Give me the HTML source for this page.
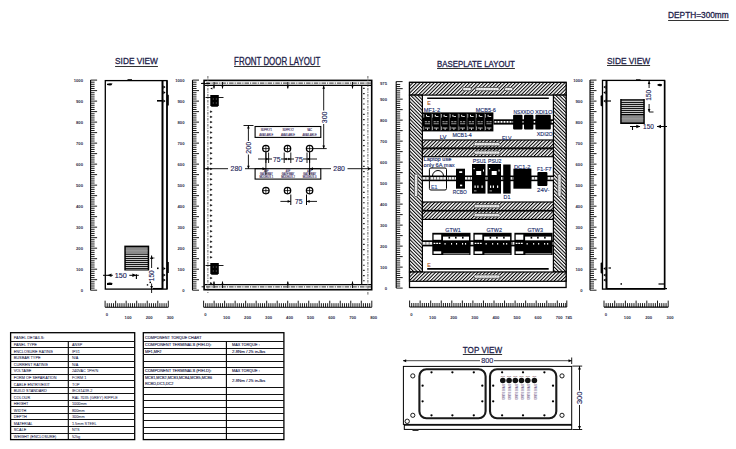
<!DOCTYPE html><html><head><meta charset="utf-8"><style>html,body{margin:0;padding:0;background:#fff;width:736px;height:449px;overflow:hidden}svg{display:block}</style></head><body>
<svg width="736" height="449" viewBox="0 0 736 449" font-family='"Liberation Sans", sans-serif'>
<defs>
<pattern id="hf" patternUnits="userSpaceOnUse" width="2.5" height="2.5" patternTransform="rotate(45)"><rect width="2.5" height="2.5" fill="#fff"/><rect x="0" y="0" width="1.05" height="2.5" fill="#000"/></pattern>
<pattern id="hb" patternUnits="userSpaceOnUse" width="2.5" height="2.5" patternTransform="rotate(-45)"><rect width="2.5" height="2.5" fill="#fff"/><rect x="0" y="0" width="1.05" height="2.5" fill="#000"/></pattern>
</defs>
<rect width="736" height="449" fill="#fff"/>
<text x="668.1" y="17.9" font-size="9.03" text-anchor="start" fill="#22224a" font-weight="normal" textLength="60.6" lengthAdjust="spacingAndGlyphs" stroke="#22224a" stroke-width="0.3">DEPTH=300mm</text>
<line x1="668.1" y1="20.5" x2="728.7" y2="20.5" stroke="#333" stroke-width="1.0"/>
<text x="115.1" y="64.3" font-size="9.44" text-anchor="start" fill="#22224a" font-weight="normal" textLength="42.8" lengthAdjust="spacingAndGlyphs" stroke="#22224a" stroke-width="0.3">SIDE VIEW</text>
<line x1="115.1" y1="66.5" x2="157.9" y2="66.5" stroke="#333" stroke-width="1.0"/>
<text x="234.1" y="64.5" font-size="10.14" text-anchor="start" fill="#22224a" font-weight="normal" textLength="86.3" lengthAdjust="spacingAndGlyphs" stroke="#22224a" stroke-width="0.3">FRONT DOOR LAYOUT</text>
<line x1="234.1" y1="66.5" x2="320.4" y2="66.5" stroke="#333" stroke-width="1.0"/>
<text x="437.1" y="66.7" font-size="8.47" text-anchor="start" fill="#22224a" font-weight="normal" textLength="77.8" lengthAdjust="spacingAndGlyphs" stroke="#22224a" stroke-width="0.3">BASEPLATE LAYOUT</text>
<line x1="437.1" y1="68.5" x2="514.9" y2="68.5" stroke="#333" stroke-width="1.0"/>
<text x="607.0" y="64.0" font-size="9.72" text-anchor="start" fill="#22224a" font-weight="normal" textLength="43.1" lengthAdjust="spacingAndGlyphs" stroke="#22224a" stroke-width="0.3">SIDE VIEW</text>
<line x1="607.0" y1="65.5" x2="650.1" y2="65.5" stroke="#333" stroke-width="1.0"/>
<text x="462.8" y="352.5" font-size="9.58" text-anchor="start" fill="#22224a" font-weight="normal" textLength="39.3" lengthAdjust="spacingAndGlyphs" stroke="#22224a" stroke-width="0.3">TOP VIEW</text>
<line x1="462.8" y1="354.5" x2="502.1" y2="354.5" stroke="#333" stroke-width="1.0"/>
<g>
<line x1="90.6" y1="80.1" x2="90.6" y2="290.2" stroke="#000" stroke-width="1.1"/>
<line x1="90.6" y1="290.2" x2="97.1" y2="290.2" stroke="#000" stroke-width="0.9"/>
<line x1="90.6" y1="288.1" x2="94.6" y2="288.1" stroke="#000" stroke-width="0.9"/>
<line x1="90.6" y1="286.0" x2="94.6" y2="286.0" stroke="#000" stroke-width="0.9"/>
<line x1="90.6" y1="283.9" x2="94.6" y2="283.9" stroke="#000" stroke-width="0.9"/>
<line x1="90.6" y1="281.8" x2="94.6" y2="281.8" stroke="#000" stroke-width="0.9"/>
<line x1="90.6" y1="279.69" x2="97.1" y2="279.69" stroke="#000" stroke-width="0.9"/>
<line x1="90.6" y1="277.59" x2="94.6" y2="277.59" stroke="#000" stroke-width="0.9"/>
<line x1="90.6" y1="275.49" x2="94.6" y2="275.49" stroke="#000" stroke-width="0.9"/>
<line x1="90.6" y1="273.39" x2="94.6" y2="273.39" stroke="#000" stroke-width="0.9"/>
<line x1="90.6" y1="271.29" x2="94.6" y2="271.29" stroke="#000" stroke-width="0.9"/>
<line x1="90.6" y1="269.19" x2="97.1" y2="269.19" stroke="#000" stroke-width="0.9"/>
<line x1="90.6" y1="267.09" x2="94.6" y2="267.09" stroke="#000" stroke-width="0.9"/>
<line x1="90.6" y1="264.99" x2="94.6" y2="264.99" stroke="#000" stroke-width="0.9"/>
<line x1="90.6" y1="262.89" x2="94.6" y2="262.89" stroke="#000" stroke-width="0.9"/>
<line x1="90.6" y1="260.79" x2="94.6" y2="260.79" stroke="#000" stroke-width="0.9"/>
<line x1="90.6" y1="258.69" x2="97.1" y2="258.69" stroke="#000" stroke-width="0.9"/>
<line x1="90.6" y1="256.58" x2="94.6" y2="256.58" stroke="#000" stroke-width="0.9"/>
<line x1="90.6" y1="254.48" x2="94.6" y2="254.48" stroke="#000" stroke-width="0.9"/>
<line x1="90.6" y1="252.38" x2="94.6" y2="252.38" stroke="#000" stroke-width="0.9"/>
<line x1="90.6" y1="250.28" x2="94.6" y2="250.28" stroke="#000" stroke-width="0.9"/>
<line x1="90.6" y1="248.18" x2="97.1" y2="248.18" stroke="#000" stroke-width="0.9"/>
<line x1="90.6" y1="246.08" x2="94.6" y2="246.08" stroke="#000" stroke-width="0.9"/>
<line x1="90.6" y1="243.98" x2="94.6" y2="243.98" stroke="#000" stroke-width="0.9"/>
<line x1="90.6" y1="241.88" x2="94.6" y2="241.88" stroke="#000" stroke-width="0.9"/>
<line x1="90.6" y1="239.78" x2="94.6" y2="239.78" stroke="#000" stroke-width="0.9"/>
<line x1="90.6" y1="237.67" x2="97.1" y2="237.67" stroke="#000" stroke-width="0.9"/>
<line x1="90.6" y1="235.57" x2="94.6" y2="235.57" stroke="#000" stroke-width="0.9"/>
<line x1="90.6" y1="233.47" x2="94.6" y2="233.47" stroke="#000" stroke-width="0.9"/>
<line x1="90.6" y1="231.37" x2="94.6" y2="231.37" stroke="#000" stroke-width="0.9"/>
<line x1="90.6" y1="229.27" x2="94.6" y2="229.27" stroke="#000" stroke-width="0.9"/>
<line x1="90.6" y1="227.17" x2="97.1" y2="227.17" stroke="#000" stroke-width="0.9"/>
<line x1="90.6" y1="225.07" x2="94.6" y2="225.07" stroke="#000" stroke-width="0.9"/>
<line x1="90.6" y1="222.97" x2="94.6" y2="222.97" stroke="#000" stroke-width="0.9"/>
<line x1="90.6" y1="220.87" x2="94.6" y2="220.87" stroke="#000" stroke-width="0.9"/>
<line x1="90.6" y1="218.77" x2="94.6" y2="218.77" stroke="#000" stroke-width="0.9"/>
<line x1="90.6" y1="216.66" x2="97.1" y2="216.66" stroke="#000" stroke-width="0.9"/>
<line x1="90.6" y1="214.56" x2="94.6" y2="214.56" stroke="#000" stroke-width="0.9"/>
<line x1="90.6" y1="212.46" x2="94.6" y2="212.46" stroke="#000" stroke-width="0.9"/>
<line x1="90.6" y1="210.36" x2="94.6" y2="210.36" stroke="#000" stroke-width="0.9"/>
<line x1="90.6" y1="208.26" x2="94.6" y2="208.26" stroke="#000" stroke-width="0.9"/>
<line x1="90.6" y1="206.16" x2="97.1" y2="206.16" stroke="#000" stroke-width="0.9"/>
<line x1="90.6" y1="204.06" x2="94.6" y2="204.06" stroke="#000" stroke-width="0.9"/>
<line x1="90.6" y1="201.96" x2="94.6" y2="201.96" stroke="#000" stroke-width="0.9"/>
<line x1="90.6" y1="199.86" x2="94.6" y2="199.86" stroke="#000" stroke-width="0.9"/>
<line x1="90.6" y1="197.76" x2="94.6" y2="197.76" stroke="#000" stroke-width="0.9"/>
<line x1="90.6" y1="195.66" x2="97.1" y2="195.66" stroke="#000" stroke-width="0.9"/>
<line x1="90.6" y1="193.55" x2="94.6" y2="193.55" stroke="#000" stroke-width="0.9"/>
<line x1="90.6" y1="191.45" x2="94.6" y2="191.45" stroke="#000" stroke-width="0.9"/>
<line x1="90.6" y1="189.35" x2="94.6" y2="189.35" stroke="#000" stroke-width="0.9"/>
<line x1="90.6" y1="187.25" x2="94.6" y2="187.25" stroke="#000" stroke-width="0.9"/>
<line x1="90.6" y1="185.15" x2="97.1" y2="185.15" stroke="#000" stroke-width="0.9"/>
<line x1="90.6" y1="183.05" x2="94.6" y2="183.05" stroke="#000" stroke-width="0.9"/>
<line x1="90.6" y1="180.95" x2="94.6" y2="180.95" stroke="#000" stroke-width="0.9"/>
<line x1="90.6" y1="178.85" x2="94.6" y2="178.85" stroke="#000" stroke-width="0.9"/>
<line x1="90.6" y1="176.75" x2="94.6" y2="176.75" stroke="#000" stroke-width="0.9"/>
<line x1="90.6" y1="174.64" x2="97.1" y2="174.64" stroke="#000" stroke-width="0.9"/>
<line x1="90.6" y1="172.54" x2="94.6" y2="172.54" stroke="#000" stroke-width="0.9"/>
<line x1="90.6" y1="170.44" x2="94.6" y2="170.44" stroke="#000" stroke-width="0.9"/>
<line x1="90.6" y1="168.34" x2="94.6" y2="168.34" stroke="#000" stroke-width="0.9"/>
<line x1="90.6" y1="166.24" x2="94.6" y2="166.24" stroke="#000" stroke-width="0.9"/>
<line x1="90.6" y1="164.14" x2="97.1" y2="164.14" stroke="#000" stroke-width="0.9"/>
<line x1="90.6" y1="162.04" x2="94.6" y2="162.04" stroke="#000" stroke-width="0.9"/>
<line x1="90.6" y1="159.94" x2="94.6" y2="159.94" stroke="#000" stroke-width="0.9"/>
<line x1="90.6" y1="157.84" x2="94.6" y2="157.84" stroke="#000" stroke-width="0.9"/>
<line x1="90.6" y1="155.74" x2="94.6" y2="155.74" stroke="#000" stroke-width="0.9"/>
<line x1="90.6" y1="153.63" x2="97.1" y2="153.63" stroke="#000" stroke-width="0.9"/>
<line x1="90.6" y1="151.53" x2="94.6" y2="151.53" stroke="#000" stroke-width="0.9"/>
<line x1="90.6" y1="149.43" x2="94.6" y2="149.43" stroke="#000" stroke-width="0.9"/>
<line x1="90.6" y1="147.33" x2="94.6" y2="147.33" stroke="#000" stroke-width="0.9"/>
<line x1="90.6" y1="145.23" x2="94.6" y2="145.23" stroke="#000" stroke-width="0.9"/>
<line x1="90.6" y1="143.13" x2="97.1" y2="143.13" stroke="#000" stroke-width="0.9"/>
<line x1="90.6" y1="141.03" x2="94.6" y2="141.03" stroke="#000" stroke-width="0.9"/>
<line x1="90.6" y1="138.93" x2="94.6" y2="138.93" stroke="#000" stroke-width="0.9"/>
<line x1="90.6" y1="136.83" x2="94.6" y2="136.83" stroke="#000" stroke-width="0.9"/>
<line x1="90.6" y1="134.73" x2="94.6" y2="134.73" stroke="#000" stroke-width="0.9"/>
<line x1="90.6" y1="132.62" x2="97.1" y2="132.62" stroke="#000" stroke-width="0.9"/>
<line x1="90.6" y1="130.52" x2="94.6" y2="130.52" stroke="#000" stroke-width="0.9"/>
<line x1="90.6" y1="128.42" x2="94.6" y2="128.42" stroke="#000" stroke-width="0.9"/>
<line x1="90.6" y1="126.32" x2="94.6" y2="126.32" stroke="#000" stroke-width="0.9"/>
<line x1="90.6" y1="124.22" x2="94.6" y2="124.22" stroke="#000" stroke-width="0.9"/>
<line x1="90.6" y1="122.12" x2="97.1" y2="122.12" stroke="#000" stroke-width="0.9"/>
<line x1="90.6" y1="120.02" x2="94.6" y2="120.02" stroke="#000" stroke-width="0.9"/>
<line x1="90.6" y1="117.92" x2="94.6" y2="117.92" stroke="#000" stroke-width="0.9"/>
<line x1="90.6" y1="115.82" x2="94.6" y2="115.82" stroke="#000" stroke-width="0.9"/>
<line x1="90.6" y1="113.72" x2="94.6" y2="113.72" stroke="#000" stroke-width="0.9"/>
<line x1="90.6" y1="111.62" x2="97.1" y2="111.62" stroke="#000" stroke-width="0.9"/>
<line x1="90.6" y1="109.51" x2="94.6" y2="109.51" stroke="#000" stroke-width="0.9"/>
<line x1="90.6" y1="107.41" x2="94.6" y2="107.41" stroke="#000" stroke-width="0.9"/>
<line x1="90.6" y1="105.31" x2="94.6" y2="105.31" stroke="#000" stroke-width="0.9"/>
<line x1="90.6" y1="103.21" x2="94.6" y2="103.21" stroke="#000" stroke-width="0.9"/>
<line x1="90.6" y1="101.11" x2="97.1" y2="101.11" stroke="#000" stroke-width="0.9"/>
<line x1="90.6" y1="99.01" x2="94.6" y2="99.01" stroke="#000" stroke-width="0.9"/>
<line x1="90.6" y1="96.91" x2="94.6" y2="96.91" stroke="#000" stroke-width="0.9"/>
<line x1="90.6" y1="94.81" x2="94.6" y2="94.81" stroke="#000" stroke-width="0.9"/>
<line x1="90.6" y1="92.71" x2="94.6" y2="92.71" stroke="#000" stroke-width="0.9"/>
<line x1="90.6" y1="90.61" x2="97.1" y2="90.61" stroke="#000" stroke-width="0.9"/>
<line x1="90.6" y1="88.5" x2="94.6" y2="88.5" stroke="#000" stroke-width="0.9"/>
<line x1="90.6" y1="86.4" x2="94.6" y2="86.4" stroke="#000" stroke-width="0.9"/>
<line x1="90.6" y1="84.3" x2="94.6" y2="84.3" stroke="#000" stroke-width="0.9"/>
<line x1="90.6" y1="82.2" x2="94.6" y2="82.2" stroke="#000" stroke-width="0.9"/>
<line x1="90.6" y1="80.1" x2="97.1" y2="80.1" stroke="#000" stroke-width="0.9"/>
</g>
<text x="83.0" y="81.6" font-size="4.2" text-anchor="end" fill="#2c2c48" font-weight="bold">1000</text>
<text x="83.0" y="102.61" font-size="4.2" text-anchor="end" fill="#2c2c48" font-weight="bold">900</text>
<text x="83.0" y="123.62" font-size="4.2" text-anchor="end" fill="#2c2c48" font-weight="bold">800</text>
<text x="83.0" y="144.63" font-size="4.2" text-anchor="end" fill="#2c2c48" font-weight="bold">700</text>
<text x="83.0" y="165.64" font-size="4.2" text-anchor="end" fill="#2c2c48" font-weight="bold">600</text>
<text x="83.0" y="186.65" font-size="4.2" text-anchor="end" fill="#2c2c48" font-weight="bold">500</text>
<text x="83.0" y="207.66" font-size="4.2" text-anchor="end" fill="#2c2c48" font-weight="bold">400</text>
<text x="83.0" y="228.67" font-size="4.2" text-anchor="end" fill="#2c2c48" font-weight="bold">300</text>
<text x="83.0" y="249.68" font-size="4.2" text-anchor="end" fill="#2c2c48" font-weight="bold">200</text>
<text x="83.0" y="270.69" font-size="4.2" text-anchor="end" fill="#2c2c48" font-weight="bold">100</text>
<text x="83.0" y="291.7" font-size="4.2" text-anchor="end" fill="#2c2c48" font-weight="bold">0</text>
<rect x="105.3" y="80.6" width="61.7" height="208.5" fill="none" stroke="#000" stroke-width="1.3"/>
<line x1="167.0" y1="80.6" x2="167.0" y2="289.1" stroke="#000" stroke-width="1.5"/>
<rect x="127.5" y="79.2" width="4.5" height="1.4" fill="#000" stroke="#000" stroke-width="0"/>
<line x1="162.5" y1="80.6" x2="162.5" y2="289.1" stroke="#000" stroke-width="2"/>
<line x1="105.1" y1="307.2" x2="168.3" y2="307.2" stroke="#000" stroke-width="1.1"/>
<line x1="105.1" y1="307.2" x2="105.1" y2="300.7" stroke="#000" stroke-width="0.9"/>
<line x1="107.21" y1="307.2" x2="107.21" y2="303.2" stroke="#000" stroke-width="0.9"/>
<line x1="109.31" y1="307.2" x2="109.31" y2="303.2" stroke="#000" stroke-width="0.9"/>
<line x1="111.42" y1="307.2" x2="111.42" y2="303.2" stroke="#000" stroke-width="0.9"/>
<line x1="113.53" y1="307.2" x2="113.53" y2="303.2" stroke="#000" stroke-width="0.9"/>
<line x1="115.63" y1="307.2" x2="115.63" y2="300.7" stroke="#000" stroke-width="0.9"/>
<line x1="117.74" y1="307.2" x2="117.74" y2="303.2" stroke="#000" stroke-width="0.9"/>
<line x1="119.85" y1="307.2" x2="119.85" y2="303.2" stroke="#000" stroke-width="0.9"/>
<line x1="121.95" y1="307.2" x2="121.95" y2="303.2" stroke="#000" stroke-width="0.9"/>
<line x1="124.06" y1="307.2" x2="124.06" y2="303.2" stroke="#000" stroke-width="0.9"/>
<line x1="126.17" y1="307.2" x2="126.17" y2="300.7" stroke="#000" stroke-width="0.9"/>
<line x1="128.27" y1="307.2" x2="128.27" y2="303.2" stroke="#000" stroke-width="0.9"/>
<line x1="130.38" y1="307.2" x2="130.38" y2="303.2" stroke="#000" stroke-width="0.9"/>
<line x1="132.49" y1="307.2" x2="132.49" y2="303.2" stroke="#000" stroke-width="0.9"/>
<line x1="134.59" y1="307.2" x2="134.59" y2="303.2" stroke="#000" stroke-width="0.9"/>
<line x1="136.7" y1="307.2" x2="136.7" y2="300.7" stroke="#000" stroke-width="0.9"/>
<line x1="138.81" y1="307.2" x2="138.81" y2="303.2" stroke="#000" stroke-width="0.9"/>
<line x1="140.91" y1="307.2" x2="140.91" y2="303.2" stroke="#000" stroke-width="0.9"/>
<line x1="143.02" y1="307.2" x2="143.02" y2="303.2" stroke="#000" stroke-width="0.9"/>
<line x1="145.13" y1="307.2" x2="145.13" y2="303.2" stroke="#000" stroke-width="0.9"/>
<line x1="147.23" y1="307.2" x2="147.23" y2="300.7" stroke="#000" stroke-width="0.9"/>
<line x1="149.34" y1="307.2" x2="149.34" y2="303.2" stroke="#000" stroke-width="0.9"/>
<line x1="151.45" y1="307.2" x2="151.45" y2="303.2" stroke="#000" stroke-width="0.9"/>
<line x1="153.55" y1="307.2" x2="153.55" y2="303.2" stroke="#000" stroke-width="0.9"/>
<line x1="155.66" y1="307.2" x2="155.66" y2="303.2" stroke="#000" stroke-width="0.9"/>
<line x1="157.77" y1="307.2" x2="157.77" y2="300.7" stroke="#000" stroke-width="0.9"/>
<line x1="159.87" y1="307.2" x2="159.87" y2="303.2" stroke="#000" stroke-width="0.9"/>
<line x1="161.98" y1="307.2" x2="161.98" y2="303.2" stroke="#000" stroke-width="0.9"/>
<line x1="164.09" y1="307.2" x2="164.09" y2="303.2" stroke="#000" stroke-width="0.9"/>
<line x1="166.19" y1="307.2" x2="166.19" y2="303.2" stroke="#000" stroke-width="0.9"/>
<line x1="168.3" y1="307.2" x2="168.3" y2="300.7" stroke="#000" stroke-width="0.9"/>
<text x="107.0" y="316.1" font-size="4.2" text-anchor="middle" fill="#2c2c48" font-weight="bold">0</text>
<text x="128.07" y="318.8" font-size="4.2" text-anchor="middle" fill="#2c2c48" font-weight="bold">100</text>
<text x="149.13" y="318.8" font-size="4.2" text-anchor="middle" fill="#2c2c48" font-weight="bold">200</text>
<text x="170.2" y="318.8" font-size="4.2" text-anchor="middle" fill="#2c2c48" font-weight="bold">300</text>
<g>
<line x1="192.5" y1="80.1" x2="192.5" y2="290.2" stroke="#000" stroke-width="1.1"/>
<line x1="192.5" y1="290.2" x2="199.0" y2="290.2" stroke="#000" stroke-width="0.9"/>
<line x1="192.5" y1="288.1" x2="196.5" y2="288.1" stroke="#000" stroke-width="0.9"/>
<line x1="192.5" y1="286.0" x2="196.5" y2="286.0" stroke="#000" stroke-width="0.9"/>
<line x1="192.5" y1="283.9" x2="196.5" y2="283.9" stroke="#000" stroke-width="0.9"/>
<line x1="192.5" y1="281.8" x2="196.5" y2="281.8" stroke="#000" stroke-width="0.9"/>
<line x1="192.5" y1="279.69" x2="199.0" y2="279.69" stroke="#000" stroke-width="0.9"/>
<line x1="192.5" y1="277.59" x2="196.5" y2="277.59" stroke="#000" stroke-width="0.9"/>
<line x1="192.5" y1="275.49" x2="196.5" y2="275.49" stroke="#000" stroke-width="0.9"/>
<line x1="192.5" y1="273.39" x2="196.5" y2="273.39" stroke="#000" stroke-width="0.9"/>
<line x1="192.5" y1="271.29" x2="196.5" y2="271.29" stroke="#000" stroke-width="0.9"/>
<line x1="192.5" y1="269.19" x2="199.0" y2="269.19" stroke="#000" stroke-width="0.9"/>
<line x1="192.5" y1="267.09" x2="196.5" y2="267.09" stroke="#000" stroke-width="0.9"/>
<line x1="192.5" y1="264.99" x2="196.5" y2="264.99" stroke="#000" stroke-width="0.9"/>
<line x1="192.5" y1="262.89" x2="196.5" y2="262.89" stroke="#000" stroke-width="0.9"/>
<line x1="192.5" y1="260.79" x2="196.5" y2="260.79" stroke="#000" stroke-width="0.9"/>
<line x1="192.5" y1="258.69" x2="199.0" y2="258.69" stroke="#000" stroke-width="0.9"/>
<line x1="192.5" y1="256.58" x2="196.5" y2="256.58" stroke="#000" stroke-width="0.9"/>
<line x1="192.5" y1="254.48" x2="196.5" y2="254.48" stroke="#000" stroke-width="0.9"/>
<line x1="192.5" y1="252.38" x2="196.5" y2="252.38" stroke="#000" stroke-width="0.9"/>
<line x1="192.5" y1="250.28" x2="196.5" y2="250.28" stroke="#000" stroke-width="0.9"/>
<line x1="192.5" y1="248.18" x2="199.0" y2="248.18" stroke="#000" stroke-width="0.9"/>
<line x1="192.5" y1="246.08" x2="196.5" y2="246.08" stroke="#000" stroke-width="0.9"/>
<line x1="192.5" y1="243.98" x2="196.5" y2="243.98" stroke="#000" stroke-width="0.9"/>
<line x1="192.5" y1="241.88" x2="196.5" y2="241.88" stroke="#000" stroke-width="0.9"/>
<line x1="192.5" y1="239.78" x2="196.5" y2="239.78" stroke="#000" stroke-width="0.9"/>
<line x1="192.5" y1="237.67" x2="199.0" y2="237.67" stroke="#000" stroke-width="0.9"/>
<line x1="192.5" y1="235.57" x2="196.5" y2="235.57" stroke="#000" stroke-width="0.9"/>
<line x1="192.5" y1="233.47" x2="196.5" y2="233.47" stroke="#000" stroke-width="0.9"/>
<line x1="192.5" y1="231.37" x2="196.5" y2="231.37" stroke="#000" stroke-width="0.9"/>
<line x1="192.5" y1="229.27" x2="196.5" y2="229.27" stroke="#000" stroke-width="0.9"/>
<line x1="192.5" y1="227.17" x2="199.0" y2="227.17" stroke="#000" stroke-width="0.9"/>
<line x1="192.5" y1="225.07" x2="196.5" y2="225.07" stroke="#000" stroke-width="0.9"/>
<line x1="192.5" y1="222.97" x2="196.5" y2="222.97" stroke="#000" stroke-width="0.9"/>
<line x1="192.5" y1="220.87" x2="196.5" y2="220.87" stroke="#000" stroke-width="0.9"/>
<line x1="192.5" y1="218.77" x2="196.5" y2="218.77" stroke="#000" stroke-width="0.9"/>
<line x1="192.5" y1="216.66" x2="199.0" y2="216.66" stroke="#000" stroke-width="0.9"/>
<line x1="192.5" y1="214.56" x2="196.5" y2="214.56" stroke="#000" stroke-width="0.9"/>
<line x1="192.5" y1="212.46" x2="196.5" y2="212.46" stroke="#000" stroke-width="0.9"/>
<line x1="192.5" y1="210.36" x2="196.5" y2="210.36" stroke="#000" stroke-width="0.9"/>
<line x1="192.5" y1="208.26" x2="196.5" y2="208.26" stroke="#000" stroke-width="0.9"/>
<line x1="192.5" y1="206.16" x2="199.0" y2="206.16" stroke="#000" stroke-width="0.9"/>
<line x1="192.5" y1="204.06" x2="196.5" y2="204.06" stroke="#000" stroke-width="0.9"/>
<line x1="192.5" y1="201.96" x2="196.5" y2="201.96" stroke="#000" stroke-width="0.9"/>
<line x1="192.5" y1="199.86" x2="196.5" y2="199.86" stroke="#000" stroke-width="0.9"/>
<line x1="192.5" y1="197.76" x2="196.5" y2="197.76" stroke="#000" stroke-width="0.9"/>
<line x1="192.5" y1="195.66" x2="199.0" y2="195.66" stroke="#000" stroke-width="0.9"/>
<line x1="192.5" y1="193.55" x2="196.5" y2="193.55" stroke="#000" stroke-width="0.9"/>
<line x1="192.5" y1="191.45" x2="196.5" y2="191.45" stroke="#000" stroke-width="0.9"/>
<line x1="192.5" y1="189.35" x2="196.5" y2="189.35" stroke="#000" stroke-width="0.9"/>
<line x1="192.5" y1="187.25" x2="196.5" y2="187.25" stroke="#000" stroke-width="0.9"/>
<line x1="192.5" y1="185.15" x2="199.0" y2="185.15" stroke="#000" stroke-width="0.9"/>
<line x1="192.5" y1="183.05" x2="196.5" y2="183.05" stroke="#000" stroke-width="0.9"/>
<line x1="192.5" y1="180.95" x2="196.5" y2="180.95" stroke="#000" stroke-width="0.9"/>
<line x1="192.5" y1="178.85" x2="196.5" y2="178.85" stroke="#000" stroke-width="0.9"/>
<line x1="192.5" y1="176.75" x2="196.5" y2="176.75" stroke="#000" stroke-width="0.9"/>
<line x1="192.5" y1="174.64" x2="199.0" y2="174.64" stroke="#000" stroke-width="0.9"/>
<line x1="192.5" y1="172.54" x2="196.5" y2="172.54" stroke="#000" stroke-width="0.9"/>
<line x1="192.5" y1="170.44" x2="196.5" y2="170.44" stroke="#000" stroke-width="0.9"/>
<line x1="192.5" y1="168.34" x2="196.5" y2="168.34" stroke="#000" stroke-width="0.9"/>
<line x1="192.5" y1="166.24" x2="196.5" y2="166.24" stroke="#000" stroke-width="0.9"/>
<line x1="192.5" y1="164.14" x2="199.0" y2="164.14" stroke="#000" stroke-width="0.9"/>
<line x1="192.5" y1="162.04" x2="196.5" y2="162.04" stroke="#000" stroke-width="0.9"/>
<line x1="192.5" y1="159.94" x2="196.5" y2="159.94" stroke="#000" stroke-width="0.9"/>
<line x1="192.5" y1="157.84" x2="196.5" y2="157.84" stroke="#000" stroke-width="0.9"/>
<line x1="192.5" y1="155.74" x2="196.5" y2="155.74" stroke="#000" stroke-width="0.9"/>
<line x1="192.5" y1="153.63" x2="199.0" y2="153.63" stroke="#000" stroke-width="0.9"/>
<line x1="192.5" y1="151.53" x2="196.5" y2="151.53" stroke="#000" stroke-width="0.9"/>
<line x1="192.5" y1="149.43" x2="196.5" y2="149.43" stroke="#000" stroke-width="0.9"/>
<line x1="192.5" y1="147.33" x2="196.5" y2="147.33" stroke="#000" stroke-width="0.9"/>
<line x1="192.5" y1="145.23" x2="196.5" y2="145.23" stroke="#000" stroke-width="0.9"/>
<line x1="192.5" y1="143.13" x2="199.0" y2="143.13" stroke="#000" stroke-width="0.9"/>
<line x1="192.5" y1="141.03" x2="196.5" y2="141.03" stroke="#000" stroke-width="0.9"/>
<line x1="192.5" y1="138.93" x2="196.5" y2="138.93" stroke="#000" stroke-width="0.9"/>
<line x1="192.5" y1="136.83" x2="196.5" y2="136.83" stroke="#000" stroke-width="0.9"/>
<line x1="192.5" y1="134.73" x2="196.5" y2="134.73" stroke="#000" stroke-width="0.9"/>
<line x1="192.5" y1="132.62" x2="199.0" y2="132.62" stroke="#000" stroke-width="0.9"/>
<line x1="192.5" y1="130.52" x2="196.5" y2="130.52" stroke="#000" stroke-width="0.9"/>
<line x1="192.5" y1="128.42" x2="196.5" y2="128.42" stroke="#000" stroke-width="0.9"/>
<line x1="192.5" y1="126.32" x2="196.5" y2="126.32" stroke="#000" stroke-width="0.9"/>
<line x1="192.5" y1="124.22" x2="196.5" y2="124.22" stroke="#000" stroke-width="0.9"/>
<line x1="192.5" y1="122.12" x2="199.0" y2="122.12" stroke="#000" stroke-width="0.9"/>
<line x1="192.5" y1="120.02" x2="196.5" y2="120.02" stroke="#000" stroke-width="0.9"/>
<line x1="192.5" y1="117.92" x2="196.5" y2="117.92" stroke="#000" stroke-width="0.9"/>
<line x1="192.5" y1="115.82" x2="196.5" y2="115.82" stroke="#000" stroke-width="0.9"/>
<line x1="192.5" y1="113.72" x2="196.5" y2="113.72" stroke="#000" stroke-width="0.9"/>
<line x1="192.5" y1="111.62" x2="199.0" y2="111.62" stroke="#000" stroke-width="0.9"/>
<line x1="192.5" y1="109.51" x2="196.5" y2="109.51" stroke="#000" stroke-width="0.9"/>
<line x1="192.5" y1="107.41" x2="196.5" y2="107.41" stroke="#000" stroke-width="0.9"/>
<line x1="192.5" y1="105.31" x2="196.5" y2="105.31" stroke="#000" stroke-width="0.9"/>
<line x1="192.5" y1="103.21" x2="196.5" y2="103.21" stroke="#000" stroke-width="0.9"/>
<line x1="192.5" y1="101.11" x2="199.0" y2="101.11" stroke="#000" stroke-width="0.9"/>
<line x1="192.5" y1="99.01" x2="196.5" y2="99.01" stroke="#000" stroke-width="0.9"/>
<line x1="192.5" y1="96.91" x2="196.5" y2="96.91" stroke="#000" stroke-width="0.9"/>
<line x1="192.5" y1="94.81" x2="196.5" y2="94.81" stroke="#000" stroke-width="0.9"/>
<line x1="192.5" y1="92.71" x2="196.5" y2="92.71" stroke="#000" stroke-width="0.9"/>
<line x1="192.5" y1="90.61" x2="199.0" y2="90.61" stroke="#000" stroke-width="0.9"/>
<line x1="192.5" y1="88.5" x2="196.5" y2="88.5" stroke="#000" stroke-width="0.9"/>
<line x1="192.5" y1="86.4" x2="196.5" y2="86.4" stroke="#000" stroke-width="0.9"/>
<line x1="192.5" y1="84.3" x2="196.5" y2="84.3" stroke="#000" stroke-width="0.9"/>
<line x1="192.5" y1="82.2" x2="196.5" y2="82.2" stroke="#000" stroke-width="0.9"/>
<line x1="192.5" y1="80.1" x2="199.0" y2="80.1" stroke="#000" stroke-width="0.9"/>
</g>
<text x="184.5" y="81.6" font-size="4.2" text-anchor="end" fill="#2c2c48" font-weight="bold">1000</text>
<text x="184.5" y="102.61" font-size="4.2" text-anchor="end" fill="#2c2c48" font-weight="bold">900</text>
<text x="184.5" y="123.62" font-size="4.2" text-anchor="end" fill="#2c2c48" font-weight="bold">800</text>
<text x="184.5" y="144.63" font-size="4.2" text-anchor="end" fill="#2c2c48" font-weight="bold">700</text>
<text x="184.5" y="165.64" font-size="4.2" text-anchor="end" fill="#2c2c48" font-weight="bold">600</text>
<text x="184.5" y="186.65" font-size="4.2" text-anchor="end" fill="#2c2c48" font-weight="bold">500</text>
<text x="184.5" y="207.66" font-size="4.2" text-anchor="end" fill="#2c2c48" font-weight="bold">400</text>
<text x="184.5" y="228.67" font-size="4.2" text-anchor="end" fill="#2c2c48" font-weight="bold">300</text>
<text x="184.5" y="249.68" font-size="4.2" text-anchor="end" fill="#2c2c48" font-weight="bold">200</text>
<text x="184.5" y="270.69" font-size="4.2" text-anchor="end" fill="#2c2c48" font-weight="bold">100</text>
<text x="184.5" y="291.7" font-size="4.2" text-anchor="end" fill="#2c2c48" font-weight="bold">0</text>
<rect x="204.1" y="80.4" width="167.6" height="209.3" fill="none" stroke="#000" stroke-width="1.6"/>
<line x1="203.6" y1="307.2" x2="371.8" y2="307.2" stroke="#000" stroke-width="1.1"/>
<line x1="203.6" y1="307.2" x2="203.6" y2="300.7" stroke="#000" stroke-width="0.9"/>
<line x1="205.7" y1="307.2" x2="205.7" y2="303.2" stroke="#000" stroke-width="0.9"/>
<line x1="207.81" y1="307.2" x2="207.81" y2="303.2" stroke="#000" stroke-width="0.9"/>
<line x1="209.91" y1="307.2" x2="209.91" y2="303.2" stroke="#000" stroke-width="0.9"/>
<line x1="212.01" y1="307.2" x2="212.01" y2="303.2" stroke="#000" stroke-width="0.9"/>
<line x1="214.11" y1="307.2" x2="214.11" y2="300.7" stroke="#000" stroke-width="0.9"/>
<line x1="216.22" y1="307.2" x2="216.22" y2="303.2" stroke="#000" stroke-width="0.9"/>
<line x1="218.32" y1="307.2" x2="218.32" y2="303.2" stroke="#000" stroke-width="0.9"/>
<line x1="220.42" y1="307.2" x2="220.42" y2="303.2" stroke="#000" stroke-width="0.9"/>
<line x1="222.52" y1="307.2" x2="222.52" y2="303.2" stroke="#000" stroke-width="0.9"/>
<line x1="224.62" y1="307.2" x2="224.62" y2="300.7" stroke="#000" stroke-width="0.9"/>
<line x1="226.73" y1="307.2" x2="226.73" y2="303.2" stroke="#000" stroke-width="0.9"/>
<line x1="228.83" y1="307.2" x2="228.83" y2="303.2" stroke="#000" stroke-width="0.9"/>
<line x1="230.93" y1="307.2" x2="230.93" y2="303.2" stroke="#000" stroke-width="0.9"/>
<line x1="233.03" y1="307.2" x2="233.03" y2="303.2" stroke="#000" stroke-width="0.9"/>
<line x1="235.14" y1="307.2" x2="235.14" y2="300.7" stroke="#000" stroke-width="0.9"/>
<line x1="237.24" y1="307.2" x2="237.24" y2="303.2" stroke="#000" stroke-width="0.9"/>
<line x1="239.34" y1="307.2" x2="239.34" y2="303.2" stroke="#000" stroke-width="0.9"/>
<line x1="241.44" y1="307.2" x2="241.44" y2="303.2" stroke="#000" stroke-width="0.9"/>
<line x1="243.55" y1="307.2" x2="243.55" y2="303.2" stroke="#000" stroke-width="0.9"/>
<line x1="245.65" y1="307.2" x2="245.65" y2="300.7" stroke="#000" stroke-width="0.9"/>
<line x1="247.75" y1="307.2" x2="247.75" y2="303.2" stroke="#000" stroke-width="0.9"/>
<line x1="249.85" y1="307.2" x2="249.85" y2="303.2" stroke="#000" stroke-width="0.9"/>
<line x1="251.96" y1="307.2" x2="251.96" y2="303.2" stroke="#000" stroke-width="0.9"/>
<line x1="254.06" y1="307.2" x2="254.06" y2="303.2" stroke="#000" stroke-width="0.9"/>
<line x1="256.16" y1="307.2" x2="256.16" y2="300.7" stroke="#000" stroke-width="0.9"/>
<line x1="258.26" y1="307.2" x2="258.26" y2="303.2" stroke="#000" stroke-width="0.9"/>
<line x1="260.37" y1="307.2" x2="260.37" y2="303.2" stroke="#000" stroke-width="0.9"/>
<line x1="262.47" y1="307.2" x2="262.47" y2="303.2" stroke="#000" stroke-width="0.9"/>
<line x1="264.57" y1="307.2" x2="264.57" y2="303.2" stroke="#000" stroke-width="0.9"/>
<line x1="266.68" y1="307.2" x2="266.68" y2="300.7" stroke="#000" stroke-width="0.9"/>
<line x1="268.78" y1="307.2" x2="268.78" y2="303.2" stroke="#000" stroke-width="0.9"/>
<line x1="270.88" y1="307.2" x2="270.88" y2="303.2" stroke="#000" stroke-width="0.9"/>
<line x1="272.98" y1="307.2" x2="272.98" y2="303.2" stroke="#000" stroke-width="0.9"/>
<line x1="275.09" y1="307.2" x2="275.09" y2="303.2" stroke="#000" stroke-width="0.9"/>
<line x1="277.19" y1="307.2" x2="277.19" y2="300.7" stroke="#000" stroke-width="0.9"/>
<line x1="279.29" y1="307.2" x2="279.29" y2="303.2" stroke="#000" stroke-width="0.9"/>
<line x1="281.39" y1="307.2" x2="281.39" y2="303.2" stroke="#000" stroke-width="0.9"/>
<line x1="283.5" y1="307.2" x2="283.5" y2="303.2" stroke="#000" stroke-width="0.9"/>
<line x1="285.6" y1="307.2" x2="285.6" y2="303.2" stroke="#000" stroke-width="0.9"/>
<line x1="287.7" y1="307.2" x2="287.7" y2="300.7" stroke="#000" stroke-width="0.9"/>
<line x1="289.8" y1="307.2" x2="289.8" y2="303.2" stroke="#000" stroke-width="0.9"/>
<line x1="291.9" y1="307.2" x2="291.9" y2="303.2" stroke="#000" stroke-width="0.9"/>
<line x1="294.01" y1="307.2" x2="294.01" y2="303.2" stroke="#000" stroke-width="0.9"/>
<line x1="296.11" y1="307.2" x2="296.11" y2="303.2" stroke="#000" stroke-width="0.9"/>
<line x1="298.21" y1="307.2" x2="298.21" y2="300.7" stroke="#000" stroke-width="0.9"/>
<line x1="300.31" y1="307.2" x2="300.31" y2="303.2" stroke="#000" stroke-width="0.9"/>
<line x1="302.42" y1="307.2" x2="302.42" y2="303.2" stroke="#000" stroke-width="0.9"/>
<line x1="304.52" y1="307.2" x2="304.52" y2="303.2" stroke="#000" stroke-width="0.9"/>
<line x1="306.62" y1="307.2" x2="306.62" y2="303.2" stroke="#000" stroke-width="0.9"/>
<line x1="308.73" y1="307.2" x2="308.73" y2="300.7" stroke="#000" stroke-width="0.9"/>
<line x1="310.83" y1="307.2" x2="310.83" y2="303.2" stroke="#000" stroke-width="0.9"/>
<line x1="312.93" y1="307.2" x2="312.93" y2="303.2" stroke="#000" stroke-width="0.9"/>
<line x1="315.03" y1="307.2" x2="315.03" y2="303.2" stroke="#000" stroke-width="0.9"/>
<line x1="317.13" y1="307.2" x2="317.13" y2="303.2" stroke="#000" stroke-width="0.9"/>
<line x1="319.24" y1="307.2" x2="319.24" y2="300.7" stroke="#000" stroke-width="0.9"/>
<line x1="321.34" y1="307.2" x2="321.34" y2="303.2" stroke="#000" stroke-width="0.9"/>
<line x1="323.44" y1="307.2" x2="323.44" y2="303.2" stroke="#000" stroke-width="0.9"/>
<line x1="325.55" y1="307.2" x2="325.55" y2="303.2" stroke="#000" stroke-width="0.9"/>
<line x1="327.65" y1="307.2" x2="327.65" y2="303.2" stroke="#000" stroke-width="0.9"/>
<line x1="329.75" y1="307.2" x2="329.75" y2="300.7" stroke="#000" stroke-width="0.9"/>
<line x1="331.85" y1="307.2" x2="331.85" y2="303.2" stroke="#000" stroke-width="0.9"/>
<line x1="333.96" y1="307.2" x2="333.96" y2="303.2" stroke="#000" stroke-width="0.9"/>
<line x1="336.06" y1="307.2" x2="336.06" y2="303.2" stroke="#000" stroke-width="0.9"/>
<line x1="338.16" y1="307.2" x2="338.16" y2="303.2" stroke="#000" stroke-width="0.9"/>
<line x1="340.26" y1="307.2" x2="340.26" y2="300.7" stroke="#000" stroke-width="0.9"/>
<line x1="342.37" y1="307.2" x2="342.37" y2="303.2" stroke="#000" stroke-width="0.9"/>
<line x1="344.47" y1="307.2" x2="344.47" y2="303.2" stroke="#000" stroke-width="0.9"/>
<line x1="346.57" y1="307.2" x2="346.57" y2="303.2" stroke="#000" stroke-width="0.9"/>
<line x1="348.67" y1="307.2" x2="348.67" y2="303.2" stroke="#000" stroke-width="0.9"/>
<line x1="350.77" y1="307.2" x2="350.77" y2="300.7" stroke="#000" stroke-width="0.9"/>
<line x1="352.88" y1="307.2" x2="352.88" y2="303.2" stroke="#000" stroke-width="0.9"/>
<line x1="354.98" y1="307.2" x2="354.98" y2="303.2" stroke="#000" stroke-width="0.9"/>
<line x1="357.08" y1="307.2" x2="357.08" y2="303.2" stroke="#000" stroke-width="0.9"/>
<line x1="359.19" y1="307.2" x2="359.19" y2="303.2" stroke="#000" stroke-width="0.9"/>
<line x1="361.29" y1="307.2" x2="361.29" y2="300.7" stroke="#000" stroke-width="0.9"/>
<line x1="363.39" y1="307.2" x2="363.39" y2="303.2" stroke="#000" stroke-width="0.9"/>
<line x1="365.49" y1="307.2" x2="365.49" y2="303.2" stroke="#000" stroke-width="0.9"/>
<line x1="367.6" y1="307.2" x2="367.6" y2="303.2" stroke="#000" stroke-width="0.9"/>
<line x1="369.7" y1="307.2" x2="369.7" y2="303.2" stroke="#000" stroke-width="0.9"/>
<line x1="371.8" y1="307.2" x2="371.8" y2="300.7" stroke="#000" stroke-width="0.9"/>
<text x="205.5" y="315.8" font-size="4.2" text-anchor="middle" fill="#2c2c48" font-weight="bold">0</text>
<text x="226.53" y="318.8" font-size="4.2" text-anchor="middle" fill="#2c2c48" font-weight="bold">100</text>
<text x="247.55" y="318.8" font-size="4.2" text-anchor="middle" fill="#2c2c48" font-weight="bold">200</text>
<text x="268.57" y="318.8" font-size="4.2" text-anchor="middle" fill="#2c2c48" font-weight="bold">300</text>
<text x="289.6" y="318.8" font-size="4.2" text-anchor="middle" fill="#2c2c48" font-weight="bold">400</text>
<text x="310.62" y="318.8" font-size="4.2" text-anchor="middle" fill="#2c2c48" font-weight="bold">500</text>
<text x="331.65" y="318.8" font-size="4.2" text-anchor="middle" fill="#2c2c48" font-weight="bold">600</text>
<text x="352.67" y="318.8" font-size="4.2" text-anchor="middle" fill="#2c2c48" font-weight="bold">700</text>
<text x="373.7" y="318.8" font-size="4.2" text-anchor="middle" fill="#2c2c48" font-weight="bold">800</text>
<line x1="205.0" y1="85.4" x2="371.0" y2="85.4" stroke="#000" stroke-width="1.1"/>
<line x1="206" y1="83.2" x2="371" y2="83.2" stroke="#555" stroke-width="1.2" stroke-dasharray="4.5 1.0 1.2 1.0"/>
<line x1="201.6" y1="83.3" x2="205" y2="83.3" stroke="#000" stroke-width="0.9"/>
<line x1="205.0" y1="284.6" x2="371.0" y2="284.6" stroke="#000" stroke-width="1.1"/>
<line x1="206" y1="286.9" x2="371" y2="286.9" stroke="#555" stroke-width="1.2" stroke-dasharray="4.5 1.0 1.2 1.0"/>
<line x1="201.6" y1="286.8" x2="205" y2="286.8" stroke="#000" stroke-width="0.9"/>
<line x1="207.9" y1="76" x2="207.9" y2="293" stroke="#666" stroke-width="1.0" stroke-dasharray="2.6 1.1 1.2 1.1"/>
<polygon points="210.2,88.6 212.39999999999998,87.61 212.39999999999998,89.58999999999999" fill="#000"/>
<polygon points="212.20000000000002,111.7 210.3,110.85000000000001 210.3,112.55" fill="#000" stroke="#000" stroke-width="0.45"/>
<polygon points="212.20000000000002,116.9 210.3,116.05000000000001 210.3,117.75" fill="#000" stroke="#000" stroke-width="0.45"/>
<polygon points="212.20000000000002,122.1 210.3,121.25 210.3,122.94999999999999" fill="#000" stroke="#000" stroke-width="0.45"/>
<polygon points="212.20000000000002,127.3 210.3,126.45 210.3,128.15" fill="#000" stroke="#000" stroke-width="0.45"/>
<polygon points="212.20000000000002,132.5 210.3,131.65 210.3,133.35" fill="#000" stroke="#000" stroke-width="0.45"/>
<polygon points="212.20000000000002,137.7 210.3,136.85 210.3,138.54999999999998" fill="#000" stroke="#000" stroke-width="0.45"/>
<polygon points="212.20000000000002,142.9 210.3,142.05 210.3,143.75" fill="#000" stroke="#000" stroke-width="0.45"/>
<polygon points="212.20000000000002,148.1 210.3,147.25 210.3,148.95" fill="#000" stroke="#000" stroke-width="0.45"/>
<polygon points="212.20000000000002,153.3 210.3,152.45000000000002 210.3,154.15" fill="#000" stroke="#000" stroke-width="0.45"/>
<polygon points="212.20000000000002,158.5 210.3,157.65 210.3,159.35" fill="#000" stroke="#000" stroke-width="0.45"/>
<polygon points="212.20000000000002,163.7 210.3,162.85 210.3,164.54999999999998" fill="#000" stroke="#000" stroke-width="0.45"/>
<polygon points="212.20000000000002,168.9 210.3,168.05 210.3,169.75" fill="#000" stroke="#000" stroke-width="0.45"/>
<polygon points="212.20000000000002,174.1 210.3,173.25 210.3,174.95" fill="#000" stroke="#000" stroke-width="0.45"/>
<polygon points="212.20000000000002,179.3 210.3,178.45000000000002 210.3,180.15" fill="#000" stroke="#000" stroke-width="0.45"/>
<polygon points="212.20000000000002,184.5 210.3,183.65 210.3,185.35" fill="#000" stroke="#000" stroke-width="0.45"/>
<polygon points="212.20000000000002,189.7 210.3,188.85 210.3,190.54999999999998" fill="#000" stroke="#000" stroke-width="0.45"/>
<polygon points="212.20000000000002,194.9 210.3,194.05 210.3,195.75" fill="#000" stroke="#000" stroke-width="0.45"/>
<polygon points="212.20000000000002,200.1 210.3,199.25 210.3,200.95" fill="#000" stroke="#000" stroke-width="0.45"/>
<polygon points="212.20000000000002,205.3 210.3,204.45000000000002 210.3,206.15" fill="#000" stroke="#000" stroke-width="0.45"/>
<polygon points="212.20000000000002,210.5 210.3,209.65 210.3,211.35" fill="#000" stroke="#000" stroke-width="0.45"/>
<polygon points="212.20000000000002,215.7 210.3,214.85 210.3,216.54999999999998" fill="#000" stroke="#000" stroke-width="0.45"/>
<polygon points="212.20000000000002,220.9 210.3,220.05 210.3,221.75" fill="#000" stroke="#000" stroke-width="0.45"/>
<polygon points="212.20000000000002,226.1 210.3,225.25 210.3,226.95" fill="#000" stroke="#000" stroke-width="0.45"/>
<polygon points="212.20000000000002,231.3 210.3,230.45000000000002 210.3,232.15" fill="#000" stroke="#000" stroke-width="0.45"/>
<polygon points="212.20000000000002,236.5 210.3,235.65 210.3,237.35" fill="#000" stroke="#000" stroke-width="0.45"/>
<polygon points="212.20000000000002,241.7 210.3,240.85 210.3,242.54999999999998" fill="#000" stroke="#000" stroke-width="0.45"/>
<polygon points="212.20000000000002,246.9 210.3,246.05 210.3,247.75" fill="#000" stroke="#000" stroke-width="0.45"/>
<polygon points="212.20000000000002,252.1 210.3,251.25 210.3,252.95" fill="#000" stroke="#000" stroke-width="0.45"/>
<polygon points="212.20000000000002,257.3 210.3,256.45 210.3,258.15000000000003" fill="#000" stroke="#000" stroke-width="0.45"/>
<polygon points="212.20000000000002,278.1 210.3,277.25 210.3,278.95000000000005" fill="#000" stroke="#000" stroke-width="0.45"/>
<polygon points="212.20000000000002,283.3 210.3,282.45 210.3,284.15000000000003" fill="#000" stroke="#000" stroke-width="0.45"/>
<line x1="361.7" y1="85.4" x2="361.7" y2="284.6" stroke="#111" stroke-width="1.2"/>
<line x1="363.2" y1="88.4" x2="364.6" y2="88.4" stroke="#000" stroke-width="1.1"/>
<line x1="363.2" y1="93.6" x2="364.6" y2="93.6" stroke="#000" stroke-width="1.1"/>
<line x1="363.2" y1="98.8" x2="364.6" y2="98.8" stroke="#000" stroke-width="1.1"/>
<line x1="363.2" y1="104.0" x2="364.6" y2="104.0" stroke="#000" stroke-width="1.1"/>
<line x1="363.2" y1="109.2" x2="364.6" y2="109.2" stroke="#000" stroke-width="1.1"/>
<line x1="363.2" y1="114.4" x2="364.6" y2="114.4" stroke="#000" stroke-width="1.1"/>
<line x1="363.2" y1="119.6" x2="364.6" y2="119.6" stroke="#000" stroke-width="1.1"/>
<line x1="363.2" y1="124.8" x2="364.6" y2="124.8" stroke="#000" stroke-width="1.1"/>
<line x1="363.2" y1="130.0" x2="364.6" y2="130.0" stroke="#000" stroke-width="1.1"/>
<line x1="363.2" y1="135.2" x2="364.6" y2="135.2" stroke="#000" stroke-width="1.1"/>
<line x1="363.2" y1="140.4" x2="364.6" y2="140.4" stroke="#000" stroke-width="1.1"/>
<line x1="363.2" y1="145.6" x2="364.6" y2="145.6" stroke="#000" stroke-width="1.1"/>
<line x1="363.2" y1="150.8" x2="364.6" y2="150.8" stroke="#000" stroke-width="1.1"/>
<line x1="363.2" y1="156.0" x2="364.6" y2="156.0" stroke="#000" stroke-width="1.1"/>
<line x1="363.2" y1="161.2" x2="364.6" y2="161.2" stroke="#000" stroke-width="1.1"/>
<line x1="363.2" y1="166.4" x2="364.6" y2="166.4" stroke="#000" stroke-width="1.1"/>
<line x1="363.2" y1="171.6" x2="364.6" y2="171.6" stroke="#000" stroke-width="1.1"/>
<line x1="363.2" y1="176.8" x2="364.6" y2="176.8" stroke="#000" stroke-width="1.1"/>
<line x1="363.2" y1="182.0" x2="364.6" y2="182.0" stroke="#000" stroke-width="1.1"/>
<line x1="363.2" y1="187.2" x2="364.6" y2="187.2" stroke="#000" stroke-width="1.1"/>
<line x1="363.2" y1="192.4" x2="364.6" y2="192.4" stroke="#000" stroke-width="1.1"/>
<line x1="363.2" y1="197.6" x2="364.6" y2="197.6" stroke="#000" stroke-width="1.1"/>
<line x1="363.2" y1="202.8" x2="364.6" y2="202.8" stroke="#000" stroke-width="1.1"/>
<line x1="363.2" y1="208.0" x2="364.6" y2="208.0" stroke="#000" stroke-width="1.1"/>
<line x1="363.2" y1="213.2" x2="364.6" y2="213.2" stroke="#000" stroke-width="1.1"/>
<line x1="363.2" y1="218.4" x2="364.6" y2="218.4" stroke="#000" stroke-width="1.1"/>
<line x1="363.2" y1="223.6" x2="364.6" y2="223.6" stroke="#000" stroke-width="1.1"/>
<line x1="363.2" y1="228.8" x2="364.6" y2="228.8" stroke="#000" stroke-width="1.1"/>
<line x1="363.2" y1="234.0" x2="364.6" y2="234.0" stroke="#000" stroke-width="1.1"/>
<line x1="363.2" y1="239.2" x2="364.6" y2="239.2" stroke="#000" stroke-width="1.1"/>
<line x1="363.2" y1="244.4" x2="364.6" y2="244.4" stroke="#000" stroke-width="1.1"/>
<line x1="363.2" y1="249.6" x2="364.6" y2="249.6" stroke="#000" stroke-width="1.1"/>
<line x1="363.2" y1="254.8" x2="364.6" y2="254.8" stroke="#000" stroke-width="1.1"/>
<line x1="363.2" y1="260.0" x2="364.6" y2="260.0" stroke="#000" stroke-width="1.1"/>
<line x1="363.2" y1="265.2" x2="364.6" y2="265.2" stroke="#000" stroke-width="1.1"/>
<line x1="363.2" y1="270.4" x2="364.6" y2="270.4" stroke="#000" stroke-width="1.1"/>
<line x1="363.2" y1="275.6" x2="364.6" y2="275.6" stroke="#000" stroke-width="1.1"/>
<line x1="363.2" y1="280.8" x2="364.6" y2="280.8" stroke="#000" stroke-width="1.1"/>
<line x1="367.9" y1="76" x2="367.9" y2="295" stroke="#666" stroke-width="1.0" stroke-dasharray="2.6 1.1 1.2 1.1"/>
<line x1="214.0" y1="82.0" x2="214.0" y2="88.5" stroke="#000" stroke-width="0.9"/>
<polygon points="214.0,88.5 213.01,86.3 214.99,86.3" fill="#000"/>
<line x1="222.5" y1="82.0" x2="222.5" y2="88.5" stroke="#000" stroke-width="0.9"/>
<polygon points="222.5,88.5 221.51,86.3 223.49,86.3" fill="#000"/>
<line x1="287.8" y1="82.0" x2="287.8" y2="88.5" stroke="#000" stroke-width="0.9"/>
<polygon points="287.8,88.5 286.81,86.3 288.79,86.3" fill="#000"/>
<line x1="352.5" y1="82.0" x2="352.5" y2="88.5" stroke="#000" stroke-width="0.9"/>
<polygon points="352.5,88.5 351.51,86.3 353.49,86.3" fill="#000"/>
<line x1="214.0" y1="281.5" x2="214.0" y2="288.0" stroke="#000" stroke-width="0.9"/>
<polygon points="214.0,281.5 213.01,283.7 214.99,283.7" fill="#000"/>
<line x1="222.5" y1="281.5" x2="222.5" y2="288.0" stroke="#000" stroke-width="0.9"/>
<polygon points="222.5,281.5 221.51,283.7 223.49,283.7" fill="#000"/>
<line x1="287.8" y1="281.5" x2="287.8" y2="288.0" stroke="#000" stroke-width="0.9"/>
<polygon points="287.8,281.5 286.81,283.7 288.79,283.7" fill="#000"/>
<line x1="352.5" y1="281.5" x2="352.5" y2="288.0" stroke="#000" stroke-width="0.9"/>
<polygon points="352.5,281.5 351.51,283.7 353.49,283.7" fill="#000"/>
<line x1="201.0" y1="83.5" x2="210.0" y2="83.5" stroke="#000" stroke-width="0.9"/>
<path d="M210.3 95.0 H218.8 V105.2 L217.6 106.8 H211.5 L210.3 105.2 Z" fill="#000"/>
<line x1="205.5" y1="97.5" x2="223.5" y2="97.5" stroke="#000" stroke-width="0.9"/>
<rect x="212.8" y="98.5" width="1" height="1" fill="#777" stroke="#000" stroke-width="0"/>
<rect x="215.8" y="98.5" width="1" height="1" fill="#777" stroke="#000" stroke-width="0"/>
<rect x="212.8" y="102.5" width="1" height="1" fill="#777" stroke="#000" stroke-width="0"/>
<rect x="215.8" y="102.5" width="1" height="1" fill="#777" stroke="#000" stroke-width="0"/>
<path d="M210.3 263.0 H218.8 V273.2 L217.6 274.8 H211.5 L210.3 273.2 Z" fill="#000"/>
<line x1="205.5" y1="265.5" x2="223.5" y2="265.5" stroke="#000" stroke-width="0.9"/>
<rect x="212.8" y="266.5" width="1" height="1" fill="#777" stroke="#000" stroke-width="0"/>
<rect x="215.8" y="266.5" width="1" height="1" fill="#777" stroke="#000" stroke-width="0"/>
<rect x="212.8" y="270.5" width="1" height="1" fill="#777" stroke="#000" stroke-width="0"/>
<rect x="215.8" y="270.5" width="1" height="1" fill="#777" stroke="#000" stroke-width="0"/>
<rect x="255.1" y="126.5" width="65.7" height="10.9" fill="none" stroke="#000" stroke-width="1.1"/>
<rect x="255.1" y="168.7" width="65.7" height="10.4" fill="none" stroke="#000" stroke-width="1.1"/>
<text x="266.3" y="131.1" font-size="2.9" text-anchor="middle" fill="#4a3a6a" font-weight="normal" textLength="11.2" lengthAdjust="spacingAndGlyphs" stroke="#4a3a6a" stroke-width="0.15">SUPPLY1</text>
<text x="266.3" y="135.6" font-size="2.9" text-anchor="middle" fill="#4a3a6a" font-weight="normal" textLength="14.2" lengthAdjust="spacingAndGlyphs" stroke="#4a3a6a" stroke-width="0.15">AVAILABLE</text>
<text x="288.0" y="131.1" font-size="2.9" text-anchor="middle" fill="#4a3a6a" font-weight="normal" textLength="11.2" lengthAdjust="spacingAndGlyphs" stroke="#4a3a6a" stroke-width="0.15">SUPPLY2</text>
<text x="288.0" y="135.6" font-size="2.9" text-anchor="middle" fill="#4a3a6a" font-weight="normal" textLength="14.2" lengthAdjust="spacingAndGlyphs" stroke="#4a3a6a" stroke-width="0.15">AVAILABLE</text>
<text x="309.6" y="131.1" font-size="2.9" text-anchor="middle" fill="#4a3a6a" font-weight="normal" textLength="4.9" lengthAdjust="spacingAndGlyphs" stroke="#4a3a6a" stroke-width="0.15">VAC</text>
<text x="309.6" y="135.6" font-size="2.9" text-anchor="middle" fill="#4a3a6a" font-weight="normal" textLength="14.2" lengthAdjust="spacingAndGlyphs" stroke="#4a3a6a" stroke-width="0.15">AVAILABLE</text>
<text x="266.3" y="171.5" font-size="2.8" text-anchor="middle" fill="#4a3a6a" font-weight="normal" textLength="4.5" lengthAdjust="spacingAndGlyphs" stroke="#4a3a6a" stroke-width="0.15">ASP</text>
<text x="266.3" y="174.6" font-size="2.8" text-anchor="middle" fill="#4a3a6a" font-weight="normal" textLength="12.7" lengthAdjust="spacingAndGlyphs" stroke="#4a3a6a" stroke-width="0.15">GATEWAY</text>
<text x="266.3" y="177.7" font-size="2.8" text-anchor="middle" fill="#4a3a6a" font-weight="normal" textLength="13.7" lengthAdjust="spacingAndGlyphs" stroke="#4a3a6a" stroke-width="0.15">MODBUS 1</text>
<text x="288.0" y="171.5" font-size="2.8" text-anchor="middle" fill="#4a3a6a" font-weight="normal" textLength="4.5" lengthAdjust="spacingAndGlyphs" stroke="#4a3a6a" stroke-width="0.15">ASP</text>
<text x="288.0" y="174.6" font-size="2.8" text-anchor="middle" fill="#4a3a6a" font-weight="normal" textLength="12.7" lengthAdjust="spacingAndGlyphs" stroke="#4a3a6a" stroke-width="0.15">GATEWAY</text>
<text x="288.0" y="177.7" font-size="2.8" text-anchor="middle" fill="#4a3a6a" font-weight="normal" textLength="13.7" lengthAdjust="spacingAndGlyphs" stroke="#4a3a6a" stroke-width="0.15">MODBUS 2</text>
<text x="309.6" y="171.5" font-size="2.8" text-anchor="middle" fill="#4a3a6a" font-weight="normal" textLength="4.5" lengthAdjust="spacingAndGlyphs" stroke="#4a3a6a" stroke-width="0.15">ASP</text>
<text x="309.6" y="174.6" font-size="2.8" text-anchor="middle" fill="#4a3a6a" font-weight="normal" textLength="12.7" lengthAdjust="spacingAndGlyphs" stroke="#4a3a6a" stroke-width="0.15">GATEWAY</text>
<text x="309.6" y="177.7" font-size="2.8" text-anchor="middle" fill="#4a3a6a" font-weight="normal" textLength="13.7" lengthAdjust="spacingAndGlyphs" stroke="#4a3a6a" stroke-width="0.15">MODBUS 3</text>
<circle cx="265.9" cy="148.6" r="3.2" fill="#fff" stroke="#000" stroke-width="1.3"/>
<line x1="262.7" y1="148.6" x2="269.09999999999997" y2="148.6" stroke="#000" stroke-width="0.8"/>
<line x1="265.9" y1="145.4" x2="265.9" y2="151.79999999999998" stroke="#000" stroke-width="0.8"/>
<circle cx="265.9" cy="190.6" r="3.2" fill="#fff" stroke="#000" stroke-width="1.3"/>
<line x1="262.7" y1="190.6" x2="269.09999999999997" y2="190.6" stroke="#000" stroke-width="0.8"/>
<line x1="265.9" y1="187.4" x2="265.9" y2="193.79999999999998" stroke="#000" stroke-width="0.8"/>
<circle cx="287.5" cy="148.6" r="3.2" fill="#fff" stroke="#000" stroke-width="1.3"/>
<line x1="284.3" y1="148.6" x2="290.7" y2="148.6" stroke="#000" stroke-width="0.8"/>
<line x1="287.5" y1="145.4" x2="287.5" y2="151.79999999999998" stroke="#000" stroke-width="0.8"/>
<circle cx="287.5" cy="190.6" r="3.2" fill="#fff" stroke="#000" stroke-width="1.3"/>
<line x1="284.3" y1="190.6" x2="290.7" y2="190.6" stroke="#000" stroke-width="0.8"/>
<line x1="287.5" y1="187.4" x2="287.5" y2="193.79999999999998" stroke="#000" stroke-width="0.8"/>
<circle cx="309.6" cy="148.6" r="3.2" fill="#fff" stroke="#000" stroke-width="1.3"/>
<line x1="306.40000000000003" y1="148.6" x2="312.8" y2="148.6" stroke="#000" stroke-width="0.8"/>
<line x1="309.6" y1="145.4" x2="309.6" y2="151.79999999999998" stroke="#000" stroke-width="0.8"/>
<circle cx="309.6" cy="190.6" r="3.2" fill="#fff" stroke="#000" stroke-width="1.3"/>
<line x1="306.40000000000003" y1="190.6" x2="312.8" y2="190.6" stroke="#000" stroke-width="0.8"/>
<line x1="309.6" y1="187.4" x2="309.6" y2="193.79999999999998" stroke="#000" stroke-width="0.8"/>
<line x1="323.7" y1="85.4" x2="323.7" y2="110.5" stroke="#000" stroke-width="0.9"/>
<polygon points="323.7,85.8 322.34999999999997,88.8 325.05,88.8" fill="#000"/>
<line x1="323.7" y1="124.0" x2="323.7" y2="148.6" stroke="#000" stroke-width="0.9"/>
<polygon points="323.7,148.6 322.34999999999997,145.6 325.05,145.6" fill="#000"/>
<line x1="312.8" y1="148.6" x2="326.7" y2="148.6" stroke="#000" stroke-width="0.9"/>
<text x="327.0" y="117.4" font-size="7.2" text-anchor="middle" fill="#1c2458" font-weight="normal" textLength="11.5" lengthAdjust="spacingAndGlyphs" transform="rotate(-90 327.0 117.4)" stroke="#1c2458" stroke-width="0.14">300</text>
<line x1="243.5" y1="125.5" x2="253.5" y2="125.5" stroke="#000" stroke-width="0.9"/>
<line x1="248.4" y1="125.5" x2="248.4" y2="141.0" stroke="#000" stroke-width="0.9"/>
<line x1="248.4" y1="154.5" x2="248.4" y2="168.7" stroke="#000" stroke-width="0.9"/>
<polygon points="248.4,125.5 247.05,128.5 249.75,128.5" fill="#000"/>
<polygon points="248.4,168.7 247.05,165.7 249.75,165.7" fill="#000"/>
<text x="251.0" y="147.8" font-size="7.2" text-anchor="middle" fill="#1c2458" font-weight="normal" textLength="11.8" lengthAdjust="spacingAndGlyphs" transform="rotate(-90 251.0 147.8)" stroke="#1c2458" stroke-width="0.14">200</text>
<line x1="204.5" y1="168.7" x2="228.0" y2="168.7" stroke="#000" stroke-width="0.9"/>
<line x1="245.0" y1="168.7" x2="265.9" y2="168.7" stroke="#000" stroke-width="0.9"/>
<polygon points="205.5,168.7 208.5,167.35 208.5,170.04999999999998" fill="#000"/>
<polygon points="265.9,168.7 262.5,167.17 262.5,170.23" fill="#000"/>
<text x="230.6" y="171.2" font-size="7.2" text-anchor="start" fill="#1c2458" font-weight="normal" textLength="11.5" lengthAdjust="spacingAndGlyphs" stroke="#1c2458" stroke-width="0.14">280</text>
<line x1="309.6" y1="168.7" x2="331.0" y2="168.7" stroke="#000" stroke-width="0.9"/>
<line x1="347.5" y1="168.7" x2="371.0" y2="168.7" stroke="#000" stroke-width="0.9"/>
<polygon points="309.6,168.7 313.0,167.17 313.0,170.23" fill="#000"/>
<polygon points="371.0,168.7 368.0,167.35 368.0,170.04999999999998" fill="#000"/>
<text x="333.3" y="171.2" font-size="7.2" text-anchor="start" fill="#1c2458" font-weight="normal" textLength="11.5" lengthAdjust="spacingAndGlyphs" stroke="#1c2458" stroke-width="0.14">280</text>
<line x1="258.1" y1="159.0" x2="272.0" y2="159.0" stroke="#000" stroke-width="0.9"/>
<line x1="281.0" y1="159.0" x2="294.0" y2="159.0" stroke="#000" stroke-width="0.9"/>
<line x1="303.0" y1="159.0" x2="317.0" y2="159.0" stroke="#000" stroke-width="0.9"/>
<line x1="265.9" y1="152.5" x2="265.9" y2="163.0" stroke="#000" stroke-width="0.9"/>
<line x1="268.6" y1="152.5" x2="268.6" y2="163.0" stroke="#000" stroke-width="0.9"/>
<line x1="284.2" y1="152.5" x2="284.2" y2="163.0" stroke="#000" stroke-width="0.9"/>
<line x1="290.8" y1="152.5" x2="290.8" y2="163.0" stroke="#000" stroke-width="0.9"/>
<line x1="307.0" y1="152.5" x2="307.0" y2="163.0" stroke="#000" stroke-width="0.9"/>
<line x1="309.6" y1="152.5" x2="309.6" y2="163.0" stroke="#000" stroke-width="0.9"/>
<line x1="265.9" y1="152" x2="265.9" y2="175" stroke="#000" stroke-width="0.9"/>
<line x1="309.6" y1="152" x2="309.6" y2="175" stroke="#000" stroke-width="0.9"/>
<polygon points="268.6,159.0 266.0,157.83 266.0,160.17" fill="#000"/>
<polygon points="284.2,159.0 286.8,157.83 286.8,160.17" fill="#000"/>
<polygon points="290.8,159.0 288.2,157.83 288.2,160.17" fill="#000"/>
<polygon points="307.0,159.0 309.6,157.83 309.6,160.17" fill="#000"/>
<text x="273.0" y="162.0" font-size="7.2" text-anchor="start" fill="#1c2458" font-weight="normal" textLength="7.5" lengthAdjust="spacingAndGlyphs" stroke="#1c2458" stroke-width="0.14">75</text>
<text x="294.7" y="162.0" font-size="7.2" text-anchor="start" fill="#1c2458" font-weight="normal" textLength="8.2" lengthAdjust="spacingAndGlyphs" stroke="#1c2458" stroke-width="0.14">75</text>
<line x1="290.8" y1="194.5" x2="290.8" y2="205.0" stroke="#000" stroke-width="1.0"/>
<line x1="306.5" y1="194.5" x2="306.5" y2="205.0" stroke="#000" stroke-width="1.0"/>
<line x1="280.4" y1="201.4" x2="290.8" y2="201.4" stroke="#000" stroke-width="0.9"/>
<line x1="306.5" y1="201.4" x2="317.0" y2="201.4" stroke="#000" stroke-width="0.9"/>
<polygon points="290.8,201.4 287.6,199.96 287.6,202.84" fill="#000"/>
<polygon points="306.5,201.4 309.7,199.96 309.7,202.84" fill="#000"/>
<text x="294.9" y="204.2" font-size="7.2" text-anchor="start" fill="#1c2458" font-weight="normal" textLength="7.5" lengthAdjust="spacingAndGlyphs" stroke="#1c2458" stroke-width="0.14">75</text>
<line x1="167.0" y1="95.3" x2="168.8" y2="95.3" stroke="#000" stroke-width="1"/>
<rect x="167.0" y="95.5" width="1.8" height="10" fill="#000" stroke="#000" stroke-width="0"/>
<rect x="167.0" y="262.0" width="1.8" height="11" fill="#000" stroke="#000" stroke-width="0"/>
<path d="M107 83.8 Q110 82.6 112.5 83.6 L111.5 85.3 Q109 85.6 107 85 Z" fill="#000"/>
<line x1="157.0" y1="100.8" x2="162.0" y2="100.8" stroke="#000" stroke-width="1.6"/>
<polygon points="163.4,85.5 165.6,87.1 163.4,88.7" fill="#000"/>
<polygon points="163.4,91.0 165.6,92.6 163.4,94.2" fill="#000"/>
<polygon points="163.4,99.5 165.6,101.1 163.4,102.7" fill="#000"/>
<polygon points="163.4,267.0 165.6,268.6 163.4,270.2" fill="#000"/>
<polygon points="163.4,273.5 165.6,275.1 163.4,276.7" fill="#000"/>
<polygon points="163.4,278.5 165.6,280.1 163.4,281.7" fill="#000"/>
<rect x="158" y="80.0" width="3" height="0.9" fill="#000" stroke="#000" stroke-width="0"/>
<rect x="124.3" y="245.6" width="24.89999999999999" height="24.900000000000006" fill="#000"/>
<rect x="125.8" y="247.2" width="21.89999999999999" height="7.2" fill="#8a8a8a" stroke="#000" stroke-width="0"/>
<line x1="125.8" y1="250.79999999999998" x2="147.7" y2="250.79999999999998" stroke="#aaa" stroke-width="0.6"/>
<line x1="125.8" y1="255.6" x2="147.7" y2="255.6" stroke="#f4f4f4" stroke-width="0.9"/>
<line x1="125.8" y1="257.6" x2="147.7" y2="257.6" stroke="#f4f4f4" stroke-width="0.9"/>
<line x1="125.8" y1="259.6" x2="147.7" y2="259.6" stroke="#f4f4f4" stroke-width="0.9"/>
<line x1="125.8" y1="261.6" x2="147.7" y2="261.6" stroke="#f4f4f4" stroke-width="0.9"/>
<line x1="125.8" y1="263.6" x2="147.7" y2="263.6" stroke="#f4f4f4" stroke-width="0.9"/>
<line x1="125.8" y1="265.6" x2="147.7" y2="265.6" stroke="#f4f4f4" stroke-width="0.9"/>
<line x1="125.8" y1="267.6" x2="147.7" y2="267.6" stroke="#f4f4f4" stroke-width="0.9"/>
<line x1="125.8" y1="269.5" x2="147.7" y2="269.5" stroke="#ccc" stroke-width="0.5"/>
<line x1="103.0" y1="275.3" x2="112.8" y2="275.3" stroke="#000" stroke-width="1.0"/>
<polygon points="107.5,275.3 111.5,273.5 111.5,277.1" fill="#000"/>
<line x1="129.3" y1="275.3" x2="138.8" y2="275.3" stroke="#000" stroke-width="1.0"/>
<polygon points="136.4,275.3 132.4,273.5 132.4,277.1" fill="#000"/>
<line x1="136.4" y1="274.3" x2="136.4" y2="279.0" stroke="#000" stroke-width="1.1"/>
<text x="114.7" y="277.9" font-size="7.0" text-anchor="start" fill="#1c2458" font-weight="normal" textLength="12.0" lengthAdjust="spacingAndGlyphs" stroke="#1c2458" stroke-width="0.14">150</text>
<line x1="151.6" y1="255.5" x2="151.6" y2="268.0" stroke="#000" stroke-width="0.9"/>
<polygon points="151.6,255.5 150.07,258.9 153.13,258.9" fill="#000"/>
<line x1="151.6" y1="258.0" x2="154.5" y2="258.0" stroke="#000" stroke-width="0.7"/>
<line x1="151.6" y1="283.5" x2="151.6" y2="293.0" stroke="#000" stroke-width="0.9"/>
<polygon points="151.6,289.1 150.25,286.1 152.95,286.1" fill="#000"/>
<rect x="157.0" y="267.5" width="1.6" height="1.6" fill="#000" stroke="#000" stroke-width="0"/>
<rect x="146.8" y="284.2" width="1.4" height="1.4" fill="#000" stroke="#000" stroke-width="0"/>
<text x="153.9" y="275.7" font-size="7.0" text-anchor="middle" fill="#1c2458" font-weight="normal" textLength="11.0" lengthAdjust="spacingAndGlyphs" transform="rotate(-90 153.9 275.7)" stroke="#1c2458" stroke-width="0.14">150</text>
<path d="M107 283 Q110 282 112.5 283 L112 285 L107 285 Z" fill="#000"/>
<rect x="149.5" y="281.6" width="1.5" height="1.5" fill="#000" stroke="#000" stroke-width="0"/>
<line x1="153.0" y1="288.6" x2="162" y2="288.6" stroke="#000" stroke-width="1.3"/>
<g>
<line x1="396.2" y1="83.4" x2="396.2" y2="288.1" stroke="#000" stroke-width="1.1"/>
<line x1="396.2" y1="288.1" x2="402.7" y2="288.1" stroke="#000" stroke-width="0.9"/>
<line x1="396.2" y1="286.0" x2="400.2" y2="286.0" stroke="#000" stroke-width="0.9"/>
<line x1="396.2" y1="283.9" x2="400.2" y2="283.9" stroke="#000" stroke-width="0.9"/>
<line x1="396.2" y1="281.8" x2="400.2" y2="281.8" stroke="#000" stroke-width="0.9"/>
<line x1="396.2" y1="279.7" x2="400.2" y2="279.7" stroke="#000" stroke-width="0.9"/>
<line x1="396.2" y1="277.6" x2="402.7" y2="277.6" stroke="#000" stroke-width="0.9"/>
<line x1="396.2" y1="275.5" x2="400.2" y2="275.5" stroke="#000" stroke-width="0.9"/>
<line x1="396.2" y1="273.4" x2="400.2" y2="273.4" stroke="#000" stroke-width="0.9"/>
<line x1="396.2" y1="271.3" x2="400.2" y2="271.3" stroke="#000" stroke-width="0.9"/>
<line x1="396.2" y1="269.2" x2="400.2" y2="269.2" stroke="#000" stroke-width="0.9"/>
<line x1="396.2" y1="267.11" x2="402.7" y2="267.11" stroke="#000" stroke-width="0.9"/>
<line x1="396.2" y1="265.01" x2="400.2" y2="265.01" stroke="#000" stroke-width="0.9"/>
<line x1="396.2" y1="262.91" x2="400.2" y2="262.91" stroke="#000" stroke-width="0.9"/>
<line x1="396.2" y1="260.81" x2="400.2" y2="260.81" stroke="#000" stroke-width="0.9"/>
<line x1="396.2" y1="258.71" x2="400.2" y2="258.71" stroke="#000" stroke-width="0.9"/>
<line x1="396.2" y1="256.61" x2="402.7" y2="256.61" stroke="#000" stroke-width="0.9"/>
<line x1="396.2" y1="254.51" x2="400.2" y2="254.51" stroke="#000" stroke-width="0.9"/>
<line x1="396.2" y1="252.41" x2="400.2" y2="252.41" stroke="#000" stroke-width="0.9"/>
<line x1="396.2" y1="250.31" x2="400.2" y2="250.31" stroke="#000" stroke-width="0.9"/>
<line x1="396.2" y1="248.21" x2="400.2" y2="248.21" stroke="#000" stroke-width="0.9"/>
<line x1="396.2" y1="246.11" x2="402.7" y2="246.11" stroke="#000" stroke-width="0.9"/>
<line x1="396.2" y1="244.01" x2="400.2" y2="244.01" stroke="#000" stroke-width="0.9"/>
<line x1="396.2" y1="241.91" x2="400.2" y2="241.91" stroke="#000" stroke-width="0.9"/>
<line x1="396.2" y1="239.81" x2="400.2" y2="239.81" stroke="#000" stroke-width="0.9"/>
<line x1="396.2" y1="237.71" x2="400.2" y2="237.71" stroke="#000" stroke-width="0.9"/>
<line x1="396.2" y1="235.61" x2="402.7" y2="235.61" stroke="#000" stroke-width="0.9"/>
<line x1="396.2" y1="233.51" x2="400.2" y2="233.51" stroke="#000" stroke-width="0.9"/>
<line x1="396.2" y1="231.41" x2="400.2" y2="231.41" stroke="#000" stroke-width="0.9"/>
<line x1="396.2" y1="229.31" x2="400.2" y2="229.31" stroke="#000" stroke-width="0.9"/>
<line x1="396.2" y1="227.21" x2="400.2" y2="227.21" stroke="#000" stroke-width="0.9"/>
<line x1="396.2" y1="225.12" x2="402.7" y2="225.12" stroke="#000" stroke-width="0.9"/>
<line x1="396.2" y1="223.02" x2="400.2" y2="223.02" stroke="#000" stroke-width="0.9"/>
<line x1="396.2" y1="220.92" x2="400.2" y2="220.92" stroke="#000" stroke-width="0.9"/>
<line x1="396.2" y1="218.82" x2="400.2" y2="218.82" stroke="#000" stroke-width="0.9"/>
<line x1="396.2" y1="216.72" x2="400.2" y2="216.72" stroke="#000" stroke-width="0.9"/>
<line x1="396.2" y1="214.62" x2="402.7" y2="214.62" stroke="#000" stroke-width="0.9"/>
<line x1="396.2" y1="212.52" x2="400.2" y2="212.52" stroke="#000" stroke-width="0.9"/>
<line x1="396.2" y1="210.42" x2="400.2" y2="210.42" stroke="#000" stroke-width="0.9"/>
<line x1="396.2" y1="208.32" x2="400.2" y2="208.32" stroke="#000" stroke-width="0.9"/>
<line x1="396.2" y1="206.22" x2="400.2" y2="206.22" stroke="#000" stroke-width="0.9"/>
<line x1="396.2" y1="204.12" x2="402.7" y2="204.12" stroke="#000" stroke-width="0.9"/>
<line x1="396.2" y1="202.02" x2="400.2" y2="202.02" stroke="#000" stroke-width="0.9"/>
<line x1="396.2" y1="199.92" x2="400.2" y2="199.92" stroke="#000" stroke-width="0.9"/>
<line x1="396.2" y1="197.82" x2="400.2" y2="197.82" stroke="#000" stroke-width="0.9"/>
<line x1="396.2" y1="195.72" x2="400.2" y2="195.72" stroke="#000" stroke-width="0.9"/>
<line x1="396.2" y1="193.62" x2="402.7" y2="193.62" stroke="#000" stroke-width="0.9"/>
<line x1="396.2" y1="191.52" x2="400.2" y2="191.52" stroke="#000" stroke-width="0.9"/>
<line x1="396.2" y1="189.42" x2="400.2" y2="189.42" stroke="#000" stroke-width="0.9"/>
<line x1="396.2" y1="187.32" x2="400.2" y2="187.32" stroke="#000" stroke-width="0.9"/>
<line x1="396.2" y1="185.23" x2="400.2" y2="185.23" stroke="#000" stroke-width="0.9"/>
<line x1="396.2" y1="183.13" x2="402.7" y2="183.13" stroke="#000" stroke-width="0.9"/>
<line x1="396.2" y1="181.03" x2="400.2" y2="181.03" stroke="#000" stroke-width="0.9"/>
<line x1="396.2" y1="178.93" x2="400.2" y2="178.93" stroke="#000" stroke-width="0.9"/>
<line x1="396.2" y1="176.83" x2="400.2" y2="176.83" stroke="#000" stroke-width="0.9"/>
<line x1="396.2" y1="174.73" x2="400.2" y2="174.73" stroke="#000" stroke-width="0.9"/>
<line x1="396.2" y1="172.63" x2="402.7" y2="172.63" stroke="#000" stroke-width="0.9"/>
<line x1="396.2" y1="170.53" x2="400.2" y2="170.53" stroke="#000" stroke-width="0.9"/>
<line x1="396.2" y1="168.43" x2="400.2" y2="168.43" stroke="#000" stroke-width="0.9"/>
<line x1="396.2" y1="166.33" x2="400.2" y2="166.33" stroke="#000" stroke-width="0.9"/>
<line x1="396.2" y1="164.23" x2="400.2" y2="164.23" stroke="#000" stroke-width="0.9"/>
<line x1="396.2" y1="162.13" x2="402.7" y2="162.13" stroke="#000" stroke-width="0.9"/>
<line x1="396.2" y1="160.03" x2="400.2" y2="160.03" stroke="#000" stroke-width="0.9"/>
<line x1="396.2" y1="157.93" x2="400.2" y2="157.93" stroke="#000" stroke-width="0.9"/>
<line x1="396.2" y1="155.83" x2="400.2" y2="155.83" stroke="#000" stroke-width="0.9"/>
<line x1="396.2" y1="153.73" x2="400.2" y2="153.73" stroke="#000" stroke-width="0.9"/>
<line x1="396.2" y1="151.63" x2="402.7" y2="151.63" stroke="#000" stroke-width="0.9"/>
<line x1="396.2" y1="149.53" x2="400.2" y2="149.53" stroke="#000" stroke-width="0.9"/>
<line x1="396.2" y1="147.43" x2="400.2" y2="147.43" stroke="#000" stroke-width="0.9"/>
<line x1="396.2" y1="145.33" x2="400.2" y2="145.33" stroke="#000" stroke-width="0.9"/>
<line x1="396.2" y1="143.24" x2="400.2" y2="143.24" stroke="#000" stroke-width="0.9"/>
<line x1="396.2" y1="141.14" x2="402.7" y2="141.14" stroke="#000" stroke-width="0.9"/>
<line x1="396.2" y1="139.04" x2="400.2" y2="139.04" stroke="#000" stroke-width="0.9"/>
<line x1="396.2" y1="136.94" x2="400.2" y2="136.94" stroke="#000" stroke-width="0.9"/>
<line x1="396.2" y1="134.84" x2="400.2" y2="134.84" stroke="#000" stroke-width="0.9"/>
<line x1="396.2" y1="132.74" x2="400.2" y2="132.74" stroke="#000" stroke-width="0.9"/>
<line x1="396.2" y1="130.64" x2="402.7" y2="130.64" stroke="#000" stroke-width="0.9"/>
<line x1="396.2" y1="128.54" x2="400.2" y2="128.54" stroke="#000" stroke-width="0.9"/>
<line x1="396.2" y1="126.44" x2="400.2" y2="126.44" stroke="#000" stroke-width="0.9"/>
<line x1="396.2" y1="124.34" x2="400.2" y2="124.34" stroke="#000" stroke-width="0.9"/>
<line x1="396.2" y1="122.24" x2="400.2" y2="122.24" stroke="#000" stroke-width="0.9"/>
<line x1="396.2" y1="120.14" x2="402.7" y2="120.14" stroke="#000" stroke-width="0.9"/>
<line x1="396.2" y1="118.04" x2="400.2" y2="118.04" stroke="#000" stroke-width="0.9"/>
<line x1="396.2" y1="115.94" x2="400.2" y2="115.94" stroke="#000" stroke-width="0.9"/>
<line x1="396.2" y1="113.84" x2="400.2" y2="113.84" stroke="#000" stroke-width="0.9"/>
<line x1="396.2" y1="111.74" x2="400.2" y2="111.74" stroke="#000" stroke-width="0.9"/>
<line x1="396.2" y1="109.64" x2="402.7" y2="109.64" stroke="#000" stroke-width="0.9"/>
<line x1="396.2" y1="107.54" x2="400.2" y2="107.54" stroke="#000" stroke-width="0.9"/>
<line x1="396.2" y1="105.44" x2="400.2" y2="105.44" stroke="#000" stroke-width="0.9"/>
<line x1="396.2" y1="103.35" x2="400.2" y2="103.35" stroke="#000" stroke-width="0.9"/>
<line x1="396.2" y1="101.25" x2="400.2" y2="101.25" stroke="#000" stroke-width="0.9"/>
<line x1="396.2" y1="99.15" x2="402.7" y2="99.15" stroke="#000" stroke-width="0.9"/>
<line x1="396.2" y1="97.05" x2="400.2" y2="97.05" stroke="#000" stroke-width="0.9"/>
<line x1="396.2" y1="94.95" x2="400.2" y2="94.95" stroke="#000" stroke-width="0.9"/>
<line x1="396.2" y1="92.85" x2="400.2" y2="92.85" stroke="#000" stroke-width="0.9"/>
<line x1="396.2" y1="90.75" x2="400.2" y2="90.75" stroke="#000" stroke-width="0.9"/>
<line x1="396.2" y1="88.65" x2="402.7" y2="88.65" stroke="#000" stroke-width="0.9"/>
<line x1="396.2" y1="86.55" x2="400.2" y2="86.55" stroke="#000" stroke-width="0.9"/>
<line x1="396.2" y1="84.45" x2="400.2" y2="84.45" stroke="#000" stroke-width="0.9"/>
</g>
<text x="387.0" y="84.9" font-size="4.2" text-anchor="end" fill="#2c2c48" font-weight="bold">975</text>
<text x="387.0" y="100.65" font-size="4.2" text-anchor="end" fill="#2c2c48" font-weight="bold">900</text>
<text x="387.0" y="121.64" font-size="4.2" text-anchor="end" fill="#2c2c48" font-weight="bold">800</text>
<text x="387.0" y="142.64" font-size="4.2" text-anchor="end" fill="#2c2c48" font-weight="bold">700</text>
<text x="387.0" y="163.63" font-size="4.2" text-anchor="end" fill="#2c2c48" font-weight="bold">600</text>
<text x="387.0" y="184.63" font-size="4.2" text-anchor="end" fill="#2c2c48" font-weight="bold">500</text>
<text x="387.0" y="205.62" font-size="4.2" text-anchor="end" fill="#2c2c48" font-weight="bold">400</text>
<text x="387.0" y="226.62" font-size="4.2" text-anchor="end" fill="#2c2c48" font-weight="bold">300</text>
<text x="387.0" y="247.61" font-size="4.2" text-anchor="end" fill="#2c2c48" font-weight="bold">200</text>
<text x="387.0" y="268.61" font-size="4.2" text-anchor="end" fill="#2c2c48" font-weight="bold">100</text>
<text x="387.0" y="289.6" font-size="4.2" text-anchor="end" fill="#2c2c48" font-weight="bold">0</text>
<line x1="396.2" y1="81.4" x2="396.2" y2="83.4" stroke="#000" stroke-width="1.1"/>
<line x1="396.2" y1="81.6" x2="402.6" y2="81.6" stroke="#000" stroke-width="0.9"/>
<rect x="409.5" y="82.4" width="156.6" height="205.1" fill="none" stroke="#000" stroke-width="1.3"/>
<line x1="409.6" y1="307.0" x2="566.8" y2="307.0" stroke="#000" stroke-width="1.1"/>
<line x1="409.6" y1="307.0" x2="409.6" y2="300.5" stroke="#000" stroke-width="0.9"/>
<line x1="411.71" y1="307.0" x2="411.71" y2="303.0" stroke="#000" stroke-width="0.9"/>
<line x1="413.82" y1="307.0" x2="413.82" y2="303.0" stroke="#000" stroke-width="0.9"/>
<line x1="415.93" y1="307.0" x2="415.93" y2="303.0" stroke="#000" stroke-width="0.9"/>
<line x1="418.04" y1="307.0" x2="418.04" y2="303.0" stroke="#000" stroke-width="0.9"/>
<line x1="420.15" y1="307.0" x2="420.15" y2="300.5" stroke="#000" stroke-width="0.9"/>
<line x1="422.26" y1="307.0" x2="422.26" y2="303.0" stroke="#000" stroke-width="0.9"/>
<line x1="424.37" y1="307.0" x2="424.37" y2="303.0" stroke="#000" stroke-width="0.9"/>
<line x1="426.48" y1="307.0" x2="426.48" y2="303.0" stroke="#000" stroke-width="0.9"/>
<line x1="428.59" y1="307.0" x2="428.59" y2="303.0" stroke="#000" stroke-width="0.9"/>
<line x1="430.7" y1="307.0" x2="430.7" y2="300.5" stroke="#000" stroke-width="0.9"/>
<line x1="432.81" y1="307.0" x2="432.81" y2="303.0" stroke="#000" stroke-width="0.9"/>
<line x1="434.92" y1="307.0" x2="434.92" y2="303.0" stroke="#000" stroke-width="0.9"/>
<line x1="437.03" y1="307.0" x2="437.03" y2="303.0" stroke="#000" stroke-width="0.9"/>
<line x1="439.14" y1="307.0" x2="439.14" y2="303.0" stroke="#000" stroke-width="0.9"/>
<line x1="441.25" y1="307.0" x2="441.25" y2="300.5" stroke="#000" stroke-width="0.9"/>
<line x1="443.36" y1="307.0" x2="443.36" y2="303.0" stroke="#000" stroke-width="0.9"/>
<line x1="445.47" y1="307.0" x2="445.47" y2="303.0" stroke="#000" stroke-width="0.9"/>
<line x1="447.58" y1="307.0" x2="447.58" y2="303.0" stroke="#000" stroke-width="0.9"/>
<line x1="449.69" y1="307.0" x2="449.69" y2="303.0" stroke="#000" stroke-width="0.9"/>
<line x1="451.8" y1="307.0" x2="451.8" y2="300.5" stroke="#000" stroke-width="0.9"/>
<line x1="453.91" y1="307.0" x2="453.91" y2="303.0" stroke="#000" stroke-width="0.9"/>
<line x1="456.02" y1="307.0" x2="456.02" y2="303.0" stroke="#000" stroke-width="0.9"/>
<line x1="458.13" y1="307.0" x2="458.13" y2="303.0" stroke="#000" stroke-width="0.9"/>
<line x1="460.24" y1="307.0" x2="460.24" y2="303.0" stroke="#000" stroke-width="0.9"/>
<line x1="462.35" y1="307.0" x2="462.35" y2="300.5" stroke="#000" stroke-width="0.9"/>
<line x1="464.46" y1="307.0" x2="464.46" y2="303.0" stroke="#000" stroke-width="0.9"/>
<line x1="466.57" y1="307.0" x2="466.57" y2="303.0" stroke="#000" stroke-width="0.9"/>
<line x1="468.68" y1="307.0" x2="468.68" y2="303.0" stroke="#000" stroke-width="0.9"/>
<line x1="470.79" y1="307.0" x2="470.79" y2="303.0" stroke="#000" stroke-width="0.9"/>
<line x1="472.9" y1="307.0" x2="472.9" y2="300.5" stroke="#000" stroke-width="0.9"/>
<line x1="475.01" y1="307.0" x2="475.01" y2="303.0" stroke="#000" stroke-width="0.9"/>
<line x1="477.12" y1="307.0" x2="477.12" y2="303.0" stroke="#000" stroke-width="0.9"/>
<line x1="479.23" y1="307.0" x2="479.23" y2="303.0" stroke="#000" stroke-width="0.9"/>
<line x1="481.34" y1="307.0" x2="481.34" y2="303.0" stroke="#000" stroke-width="0.9"/>
<line x1="483.45" y1="307.0" x2="483.45" y2="300.5" stroke="#000" stroke-width="0.9"/>
<line x1="485.56" y1="307.0" x2="485.56" y2="303.0" stroke="#000" stroke-width="0.9"/>
<line x1="487.67" y1="307.0" x2="487.67" y2="303.0" stroke="#000" stroke-width="0.9"/>
<line x1="489.78" y1="307.0" x2="489.78" y2="303.0" stroke="#000" stroke-width="0.9"/>
<line x1="491.89" y1="307.0" x2="491.89" y2="303.0" stroke="#000" stroke-width="0.9"/>
<line x1="494.0" y1="307.0" x2="494.0" y2="300.5" stroke="#000" stroke-width="0.9"/>
<line x1="496.11" y1="307.0" x2="496.11" y2="303.0" stroke="#000" stroke-width="0.9"/>
<line x1="498.22" y1="307.0" x2="498.22" y2="303.0" stroke="#000" stroke-width="0.9"/>
<line x1="500.33" y1="307.0" x2="500.33" y2="303.0" stroke="#000" stroke-width="0.9"/>
<line x1="502.44" y1="307.0" x2="502.44" y2="303.0" stroke="#000" stroke-width="0.9"/>
<line x1="504.55" y1="307.0" x2="504.55" y2="300.5" stroke="#000" stroke-width="0.9"/>
<line x1="506.66" y1="307.0" x2="506.66" y2="303.0" stroke="#000" stroke-width="0.9"/>
<line x1="508.77" y1="307.0" x2="508.77" y2="303.0" stroke="#000" stroke-width="0.9"/>
<line x1="510.88" y1="307.0" x2="510.88" y2="303.0" stroke="#000" stroke-width="0.9"/>
<line x1="512.99" y1="307.0" x2="512.99" y2="303.0" stroke="#000" stroke-width="0.9"/>
<line x1="515.1" y1="307.0" x2="515.1" y2="300.5" stroke="#000" stroke-width="0.9"/>
<line x1="517.21" y1="307.0" x2="517.21" y2="303.0" stroke="#000" stroke-width="0.9"/>
<line x1="519.32" y1="307.0" x2="519.32" y2="303.0" stroke="#000" stroke-width="0.9"/>
<line x1="521.43" y1="307.0" x2="521.43" y2="303.0" stroke="#000" stroke-width="0.9"/>
<line x1="523.54" y1="307.0" x2="523.54" y2="303.0" stroke="#000" stroke-width="0.9"/>
<line x1="525.65" y1="307.0" x2="525.65" y2="300.5" stroke="#000" stroke-width="0.9"/>
<line x1="527.76" y1="307.0" x2="527.76" y2="303.0" stroke="#000" stroke-width="0.9"/>
<line x1="529.87" y1="307.0" x2="529.87" y2="303.0" stroke="#000" stroke-width="0.9"/>
<line x1="531.98" y1="307.0" x2="531.98" y2="303.0" stroke="#000" stroke-width="0.9"/>
<line x1="534.09" y1="307.0" x2="534.09" y2="303.0" stroke="#000" stroke-width="0.9"/>
<line x1="536.2" y1="307.0" x2="536.2" y2="300.5" stroke="#000" stroke-width="0.9"/>
<line x1="538.31" y1="307.0" x2="538.31" y2="303.0" stroke="#000" stroke-width="0.9"/>
<line x1="540.42" y1="307.0" x2="540.42" y2="303.0" stroke="#000" stroke-width="0.9"/>
<line x1="542.53" y1="307.0" x2="542.53" y2="303.0" stroke="#000" stroke-width="0.9"/>
<line x1="544.64" y1="307.0" x2="544.64" y2="303.0" stroke="#000" stroke-width="0.9"/>
<line x1="546.75" y1="307.0" x2="546.75" y2="300.5" stroke="#000" stroke-width="0.9"/>
<line x1="548.86" y1="307.0" x2="548.86" y2="303.0" stroke="#000" stroke-width="0.9"/>
<line x1="550.97" y1="307.0" x2="550.97" y2="303.0" stroke="#000" stroke-width="0.9"/>
<line x1="553.08" y1="307.0" x2="553.08" y2="303.0" stroke="#000" stroke-width="0.9"/>
<line x1="555.19" y1="307.0" x2="555.19" y2="303.0" stroke="#000" stroke-width="0.9"/>
<line x1="557.3" y1="307.0" x2="557.3" y2="300.5" stroke="#000" stroke-width="0.9"/>
<line x1="559.41" y1="307.0" x2="559.41" y2="303.0" stroke="#000" stroke-width="0.9"/>
<line x1="561.52" y1="307.0" x2="561.52" y2="303.0" stroke="#000" stroke-width="0.9"/>
<line x1="563.63" y1="307.0" x2="563.63" y2="303.0" stroke="#000" stroke-width="0.9"/>
<line x1="565.74" y1="307.0" x2="565.74" y2="303.0" stroke="#000" stroke-width="0.9"/>
<line x1="566.8" y1="307.0" x2="566.8" y2="300.5" stroke="#000" stroke-width="0.9"/>
<text x="411.5" y="316.1" font-size="4.2" text-anchor="middle" fill="#2c2c48" font-weight="bold">0</text>
<text x="432.6" y="319.1" font-size="4.2" text-anchor="middle" fill="#2c2c48" font-weight="bold">100</text>
<text x="453.7" y="319.1" font-size="4.2" text-anchor="middle" fill="#2c2c48" font-weight="bold">200</text>
<text x="474.8" y="319.1" font-size="4.2" text-anchor="middle" fill="#2c2c48" font-weight="bold">300</text>
<text x="495.9" y="319.1" font-size="4.2" text-anchor="middle" fill="#2c2c48" font-weight="bold">400</text>
<text x="517.0" y="319.1" font-size="4.2" text-anchor="middle" fill="#2c2c48" font-weight="bold">500</text>
<text x="538.1" y="319.1" font-size="4.2" text-anchor="middle" fill="#2c2c48" font-weight="bold">600</text>
<text x="559.2" y="319.1" font-size="4.2" text-anchor="middle" fill="#2c2c48" font-weight="bold">700</text>
<text x="568.7" y="319.1" font-size="4.2" text-anchor="middle" fill="#2c2c48" font-weight="bold">745</text>
<rect x="409.5" y="82.4" width="156.6" height="12.7" fill="url(#hf)" stroke="#000" stroke-width="1.2"/>
<rect x="409.5" y="95.1" width="12.9" height="176.9" fill="url(#hb)" stroke="#000" stroke-width="1.2"/>
<rect x="553.4" y="95.1" width="12.7" height="176.9" fill="url(#hb)" stroke="#000" stroke-width="1.2"/>
<rect x="409.5" y="272.0" width="156.6" height="9.3" fill="url(#hf)" stroke="#000" stroke-width="1.2"/>
<rect x="422.4" y="140.0" width="131.0" height="8.0" fill="url(#hf)" stroke="#000" stroke-width="1.2"/>
<rect x="422.4" y="148.7" width="131.0" height="8.0" fill="url(#hf)" stroke="#000" stroke-width="1.2"/>
<rect x="422.4" y="202.0" width="131.0" height="8.400000000000006" fill="url(#hf)" stroke="#000" stroke-width="1.2"/>
<rect x="422.4" y="211.0" width="131.0" height="8.400000000000006" fill="url(#hf)" stroke="#000" stroke-width="1.2"/>
<rect x="462.6" y="87.5" width="8.799999999999955" height="3.2" rx="1.6" fill="#f2f2f2" stroke="#333" stroke-width="0.7"/>
<line x1="464.6" y1="89.1" x2="469.4" y2="89.1" stroke="#bbb" stroke-width="0.8" stroke-dasharray="1.5 1"/>
<rect x="475.5" y="87.5" width="23.80000000000001" height="3.2" rx="1.6" fill="#f2f2f2" stroke="#333" stroke-width="0.7"/>
<line x1="477.5" y1="89.1" x2="497.3" y2="89.1" stroke="#bbb" stroke-width="0.8" stroke-dasharray="1.5 1"/>
<rect x="504.5" y="87.5" width="8.399999999999977" height="3.2" rx="1.6" fill="#f2f2f2" stroke="#333" stroke-width="0.7"/>
<line x1="506.5" y1="89.1" x2="510.9" y2="89.1" stroke="#bbb" stroke-width="0.8" stroke-dasharray="1.5 1"/>
<rect x="474" y="142.6" width="26" height="3.2" rx="1.6" fill="#f2f2f2" stroke="#333" stroke-width="0.7"/>
<line x1="476" y1="144.2" x2="498" y2="144.2" stroke="#bbb" stroke-width="0.8" stroke-dasharray="1.5 1"/>
<rect x="474" y="151.0" width="26" height="3.2" rx="1.6" fill="#f2f2f2" stroke="#333" stroke-width="0.7"/>
<line x1="476" y1="152.6" x2="498" y2="152.6" stroke="#bbb" stroke-width="0.8" stroke-dasharray="1.5 1"/>
<rect x="474" y="204.6" width="26" height="3.2" rx="1.6" fill="#f2f2f2" stroke="#333" stroke-width="0.7"/>
<line x1="476" y1="206.2" x2="498" y2="206.2" stroke="#bbb" stroke-width="0.8" stroke-dasharray="1.5 1"/>
<rect x="474" y="213.6" width="26" height="3.2" rx="1.6" fill="#f2f2f2" stroke="#333" stroke-width="0.7"/>
<line x1="476" y1="215.2" x2="498" y2="215.2" stroke="#bbb" stroke-width="0.8" stroke-dasharray="1.5 1"/>
<rect x="474" y="275.0" width="26" height="3.2" rx="1.6" fill="#f2f2f2" stroke="#333" stroke-width="0.7"/>
<line x1="476" y1="276.6" x2="498" y2="276.6" stroke="#bbb" stroke-width="0.8" stroke-dasharray="1.5 1"/>
<rect x="414.4" y="174" width="3.3" height="22.7" rx="1.65" fill="#f2f2f2" stroke="#333" stroke-width="0.7"/>
<line x1="416.04999999999995" y1="176" x2="416.04999999999995" y2="194.5" stroke="#bbb" stroke-width="0.8" stroke-dasharray="1.5 1"/>
<rect x="557.8" y="174" width="3.3" height="22.7" rx="1.65" fill="#f2f2f2" stroke="#333" stroke-width="0.7"/>
<line x1="559.4499999999999" y1="176" x2="559.4499999999999" y2="194.5" stroke="#bbb" stroke-width="0.8" stroke-dasharray="1.5 1"/>
<line x1="427.2" y1="98.3" x2="548.8" y2="98.3" stroke="#000" stroke-width="1.6"/>
<line x1="427.2" y1="268.9" x2="548.7" y2="268.9" stroke="#000" stroke-width="1.8"/>
<text x="427.2" y="105.0" font-size="5.2" text-anchor="start" fill="#b05a2a" font-weight="normal" stroke="#b05a2a" stroke-width="0.14">E</text>
<text x="427.2" y="266.8" font-size="5.2" text-anchor="start" fill="#b05a2a" font-weight="normal" stroke="#b05a2a" stroke-width="0.14">E</text>
<rect x="423.0" y="112.4" width="70.4" height="19.0" fill="#000" stroke="#000" stroke-width="0"/>
<rect x="423.4" y="114.0" width="0.8" height="3.6" fill="#bbb" stroke="#000" stroke-width="0"/>
<rect x="426.0" y="114.8" width="1.0" height="1.8" fill="#fff" stroke="#000" stroke-width="0"/>
<rect x="427.0" y="116.0" width="2.6" height="0.9" fill="#eee" stroke="#000" stroke-width="0"/>
<rect x="424.8" y="121.4" width="2.2" height="0.8" fill="#ddd" stroke="#000" stroke-width="0"/>
<rect x="427.8" y="121.4" width="2.2" height="0.8" fill="#ddd" stroke="#000" stroke-width="0"/>
<rect x="424.8" y="123.4" width="5.2" height="0.8" fill="#bbb" stroke="#000" stroke-width="0"/>
<rect x="423.4" y="126.5" width="0.8" height="3.6" fill="#bbb" stroke="#000" stroke-width="0"/>
<rect x="425.0" y="127.6" width="4.8" height="0.8" fill="#eee" stroke="#000" stroke-width="0"/>
<rect x="427.0" y="128.4" width="1.0" height="1.4" fill="#fff" stroke="#000" stroke-width="0"/>
<line x1="431.8" y1="113.5" x2="431.8" y2="130.5" stroke="#888" stroke-width="0.5"/>
<rect x="432.2" y="114.0" width="0.8" height="3.6" fill="#bbb" stroke="#000" stroke-width="0"/>
<rect x="434.8" y="114.8" width="1.0" height="1.8" fill="#fff" stroke="#000" stroke-width="0"/>
<rect x="435.8" y="116.0" width="2.6" height="0.9" fill="#eee" stroke="#000" stroke-width="0"/>
<rect x="433.6" y="121.4" width="2.2" height="0.8" fill="#ddd" stroke="#000" stroke-width="0"/>
<rect x="436.6" y="121.4" width="2.2" height="0.8" fill="#ddd" stroke="#000" stroke-width="0"/>
<rect x="433.6" y="123.4" width="5.2" height="0.8" fill="#bbb" stroke="#000" stroke-width="0"/>
<rect x="432.2" y="126.5" width="0.8" height="3.6" fill="#bbb" stroke="#000" stroke-width="0"/>
<rect x="433.8" y="127.6" width="4.8" height="0.8" fill="#eee" stroke="#000" stroke-width="0"/>
<rect x="435.8" y="128.4" width="1.0" height="1.4" fill="#fff" stroke="#000" stroke-width="0"/>
<line x1="440.6" y1="113.5" x2="440.6" y2="130.5" stroke="#888" stroke-width="0.5"/>
<rect x="441.0" y="114.0" width="0.8" height="3.6" fill="#bbb" stroke="#000" stroke-width="0"/>
<rect x="443.6" y="114.8" width="1.0" height="1.8" fill="#fff" stroke="#000" stroke-width="0"/>
<rect x="444.6" y="116.0" width="2.6" height="0.9" fill="#eee" stroke="#000" stroke-width="0"/>
<rect x="442.40000000000003" y="121.4" width="2.2" height="0.8" fill="#ddd" stroke="#000" stroke-width="0"/>
<rect x="445.40000000000003" y="121.4" width="2.2" height="0.8" fill="#ddd" stroke="#000" stroke-width="0"/>
<rect x="442.40000000000003" y="123.4" width="5.2" height="0.8" fill="#bbb" stroke="#000" stroke-width="0"/>
<rect x="441.0" y="126.5" width="0.8" height="3.6" fill="#bbb" stroke="#000" stroke-width="0"/>
<rect x="442.6" y="127.6" width="4.8" height="0.8" fill="#eee" stroke="#000" stroke-width="0"/>
<rect x="444.6" y="128.4" width="1.0" height="1.4" fill="#fff" stroke="#000" stroke-width="0"/>
<line x1="449.4" y1="113.5" x2="449.4" y2="130.5" stroke="#888" stroke-width="0.5"/>
<rect x="449.79999999999995" y="114.0" width="0.8" height="3.6" fill="#bbb" stroke="#000" stroke-width="0"/>
<rect x="452.4" y="114.8" width="1.0" height="1.8" fill="#fff" stroke="#000" stroke-width="0"/>
<rect x="453.4" y="116.0" width="2.6" height="0.9" fill="#eee" stroke="#000" stroke-width="0"/>
<rect x="451.2" y="121.4" width="2.2" height="0.8" fill="#ddd" stroke="#000" stroke-width="0"/>
<rect x="454.2" y="121.4" width="2.2" height="0.8" fill="#ddd" stroke="#000" stroke-width="0"/>
<rect x="451.2" y="123.4" width="5.2" height="0.8" fill="#bbb" stroke="#000" stroke-width="0"/>
<rect x="449.79999999999995" y="126.5" width="0.8" height="3.6" fill="#bbb" stroke="#000" stroke-width="0"/>
<rect x="451.4" y="127.6" width="4.8" height="0.8" fill="#eee" stroke="#000" stroke-width="0"/>
<rect x="453.4" y="128.4" width="1.0" height="1.4" fill="#fff" stroke="#000" stroke-width="0"/>
<line x1="458.2" y1="113.5" x2="458.2" y2="130.5" stroke="#888" stroke-width="0.5"/>
<rect x="458.59999999999997" y="114.0" width="0.8" height="3.6" fill="#bbb" stroke="#000" stroke-width="0"/>
<rect x="461.2" y="114.8" width="1.0" height="1.8" fill="#fff" stroke="#000" stroke-width="0"/>
<rect x="462.2" y="116.0" width="2.6" height="0.9" fill="#eee" stroke="#000" stroke-width="0"/>
<rect x="460.0" y="121.4" width="2.2" height="0.8" fill="#ddd" stroke="#000" stroke-width="0"/>
<rect x="463.0" y="121.4" width="2.2" height="0.8" fill="#ddd" stroke="#000" stroke-width="0"/>
<rect x="460.0" y="123.4" width="5.2" height="0.8" fill="#bbb" stroke="#000" stroke-width="0"/>
<rect x="458.59999999999997" y="126.5" width="0.8" height="3.6" fill="#bbb" stroke="#000" stroke-width="0"/>
<rect x="460.2" y="127.6" width="4.8" height="0.8" fill="#eee" stroke="#000" stroke-width="0"/>
<rect x="462.2" y="128.4" width="1.0" height="1.4" fill="#fff" stroke="#000" stroke-width="0"/>
<line x1="467.0" y1="113.5" x2="467.0" y2="130.5" stroke="#888" stroke-width="0.5"/>
<rect x="467.4" y="114.0" width="0.8" height="3.6" fill="#bbb" stroke="#000" stroke-width="0"/>
<rect x="470.0" y="114.8" width="1.0" height="1.8" fill="#fff" stroke="#000" stroke-width="0"/>
<rect x="471.0" y="116.0" width="2.6" height="0.9" fill="#eee" stroke="#000" stroke-width="0"/>
<rect x="468.8" y="121.4" width="2.2" height="0.8" fill="#ddd" stroke="#000" stroke-width="0"/>
<rect x="471.8" y="121.4" width="2.2" height="0.8" fill="#ddd" stroke="#000" stroke-width="0"/>
<rect x="468.8" y="123.4" width="5.2" height="0.8" fill="#bbb" stroke="#000" stroke-width="0"/>
<rect x="467.4" y="126.5" width="0.8" height="3.6" fill="#bbb" stroke="#000" stroke-width="0"/>
<rect x="469.0" y="127.6" width="4.8" height="0.8" fill="#eee" stroke="#000" stroke-width="0"/>
<rect x="471.0" y="128.4" width="1.0" height="1.4" fill="#fff" stroke="#000" stroke-width="0"/>
<line x1="475.8" y1="113.5" x2="475.8" y2="130.5" stroke="#888" stroke-width="0.5"/>
<rect x="476.2" y="114.0" width="0.8" height="3.6" fill="#bbb" stroke="#000" stroke-width="0"/>
<rect x="478.8" y="114.8" width="1.0" height="1.8" fill="#fff" stroke="#000" stroke-width="0"/>
<rect x="479.8" y="116.0" width="2.6" height="0.9" fill="#eee" stroke="#000" stroke-width="0"/>
<rect x="477.6" y="121.4" width="2.2" height="0.8" fill="#ddd" stroke="#000" stroke-width="0"/>
<rect x="480.6" y="121.4" width="2.2" height="0.8" fill="#ddd" stroke="#000" stroke-width="0"/>
<rect x="477.6" y="123.4" width="5.2" height="0.8" fill="#bbb" stroke="#000" stroke-width="0"/>
<rect x="476.2" y="126.5" width="0.8" height="3.6" fill="#bbb" stroke="#000" stroke-width="0"/>
<rect x="477.8" y="127.6" width="4.8" height="0.8" fill="#eee" stroke="#000" stroke-width="0"/>
<rect x="479.8" y="128.4" width="1.0" height="1.4" fill="#fff" stroke="#000" stroke-width="0"/>
<line x1="484.6" y1="113.5" x2="484.6" y2="130.5" stroke="#888" stroke-width="0.5"/>
<rect x="485.0" y="114.0" width="0.8" height="3.6" fill="#bbb" stroke="#000" stroke-width="0"/>
<rect x="487.6" y="114.8" width="1.0" height="1.8" fill="#fff" stroke="#000" stroke-width="0"/>
<rect x="488.6" y="116.0" width="2.6" height="0.9" fill="#eee" stroke="#000" stroke-width="0"/>
<rect x="486.40000000000003" y="121.4" width="2.2" height="0.8" fill="#ddd" stroke="#000" stroke-width="0"/>
<rect x="489.40000000000003" y="121.4" width="2.2" height="0.8" fill="#ddd" stroke="#000" stroke-width="0"/>
<rect x="486.40000000000003" y="123.4" width="5.2" height="0.8" fill="#bbb" stroke="#000" stroke-width="0"/>
<rect x="485.0" y="126.5" width="0.8" height="3.6" fill="#bbb" stroke="#000" stroke-width="0"/>
<rect x="486.6" y="127.6" width="4.8" height="0.8" fill="#eee" stroke="#000" stroke-width="0"/>
<rect x="488.6" y="128.4" width="1.0" height="1.4" fill="#fff" stroke="#000" stroke-width="0"/>
<rect x="493.4" y="119.3" width="60.0" height="5.3" fill="#000" stroke="#000" stroke-width="0"/>
<line x1="494.5" y1="121.95" x2="553" y2="121.95" stroke="#fff" stroke-width="1.8" stroke-dasharray="2 1.0"/>
<rect x="513.1" y="114.7" width="9.4" height="14.9" fill="#000" stroke="#000" stroke-width="0" rx="1"/>
<rect x="524.0" y="114.7" width="9.4" height="14.9" fill="#000" stroke="#000" stroke-width="0" rx="1"/>
<rect x="535.4" y="114.7" width="15.4" height="14.9" fill="#000" stroke="#000" stroke-width="0" rx="1"/>
<text x="423.8" y="111.6" font-size="5.4" text-anchor="start" fill="#22306e" font-weight="normal" textLength="16.2" lengthAdjust="spacingAndGlyphs" stroke="#22306e" stroke-width="0.14">MF1-2</text>
<text x="475.7" y="111.6" font-size="5.4" text-anchor="start" fill="#22306e" font-weight="normal" textLength="20.2" lengthAdjust="spacingAndGlyphs" stroke="#22306e" stroke-width="0.14">MCB5-6</text>
<text x="513.4" y="113.6" font-size="5.4" text-anchor="start" fill="#22306e" font-weight="normal" textLength="20.5" lengthAdjust="spacingAndGlyphs" stroke="#22306e" stroke-width="0.14">NSXXDO</text>
<text x="535.0" y="113.6" font-size="5.4" text-anchor="start" fill="#22306e" font-weight="normal" textLength="17.5" lengthAdjust="spacingAndGlyphs" stroke="#22306e" stroke-width="0.14">XDI1O</text>
<text x="439.7" y="139.0" font-size="5.4" text-anchor="start" fill="#22306e" font-weight="normal" textLength="6.8" lengthAdjust="spacingAndGlyphs" stroke="#22306e" stroke-width="0.14">LV</text>
<text x="452.4" y="137.0" font-size="5.4" text-anchor="start" fill="#22306e" font-weight="normal" textLength="19.4" lengthAdjust="spacingAndGlyphs" stroke="#22306e" stroke-width="0.14">MCB1-4</text>
<text x="536.7" y="135.6" font-size="5.4" text-anchor="start" fill="#22306e" font-weight="normal" textLength="16.1" lengthAdjust="spacingAndGlyphs" stroke="#22306e" stroke-width="0.14">XDI2O</text>
<text x="502.0" y="140.3" font-size="5.4" text-anchor="start" fill="#22306e" font-weight="normal" textLength="9.4" lengthAdjust="spacingAndGlyphs" stroke="#22306e" stroke-width="0.14">ELV</text>
<rect x="422.4" y="175.5" width="131.0" height="5.699999999999989" fill="#000" stroke="#000" stroke-width="0"/>
<rect x="422.4" y="177.0675" width="131.0" height="2.564999999999995" fill="#f0f0f0" stroke="#000" stroke-width="0"/>
<line x1="422.4" y1="178.35" x2="553.4" y2="178.35" stroke="#333" stroke-width="2.564999999999995" stroke-dasharray="0.6 2.6"/>
<text x="423.5" y="161.3" font-size="5.4" text-anchor="start" fill="#22306e" font-weight="normal" textLength="27.9" lengthAdjust="spacingAndGlyphs" stroke="#22306e" stroke-width="0.14">Laptop use</text>
<text x="423.5" y="167.2" font-size="5.4" text-anchor="start" fill="#22306e" font-weight="normal" textLength="31.2" lengthAdjust="spacingAndGlyphs" stroke="#22306e" stroke-width="0.14">only 6A max</text>
<rect x="429.4" y="168.0" width="17.1" height="22.0" fill="#fff" stroke="#000" stroke-width="1.0" rx="1.5"/>
<path d="M432.5 176 A5.5 5.5 0 0 1 443.5 176" fill="none" stroke="#000" stroke-width="1"/>
<rect x="429.9" y="175.5" width="16.100000000000023" height="5.699999999999989" fill="#000" stroke="#000" stroke-width="0"/>
<rect x="429.9" y="177.0675" width="16.100000000000023" height="2.564999999999995" fill="#f0f0f0" stroke="#000" stroke-width="0"/>
<line x1="429.9" y1="178.35" x2="446.0" y2="178.35" stroke="#333" stroke-width="2.564999999999995" stroke-dasharray="0.6 2.6"/>
<text x="431.0" y="189.2" font-size="5.2" text-anchor="start" fill="#3a5aa0" font-weight="normal" stroke="#3a5aa0" stroke-width="0.14">E1</text>
<rect x="456.0" y="168.7" width="9.0" height="20.0" fill="#000" stroke="#000" stroke-width="0"/>
<text x="452.7" y="194.0" font-size="5.4" text-anchor="start" fill="#22306e" font-weight="normal" textLength="14.1" lengthAdjust="spacingAndGlyphs" stroke="#22306e" stroke-width="0.14">RCBO</text>
<rect x="472.0" y="164.0" width="13.5" height="29.6" fill="#000" stroke="#000" stroke-width="0"/>
<rect x="487.5" y="164.0" width="13.5" height="29.6" fill="#000" stroke="#000" stroke-width="0"/>
<rect x="476.2" y="171.0" width="5.0" height="4.0" fill="#fff" stroke="#000" stroke-width="0"/>
<rect x="473.5" y="168.0" width="1.2" height="1.2" fill="#fff" stroke="#000" stroke-width="0"/>
<rect x="483.0" y="169.5" width="1.0" height="2.0" fill="#fff" stroke="#000" stroke-width="0"/>
<rect x="474.5" y="185.5" width="1.2" height="2.4" fill="#fff" stroke="#000" stroke-width="0"/>
<rect x="477.3" y="185.5" width="1.2" height="2.4" fill="#fff" stroke="#000" stroke-width="0"/>
<rect x="481.5" y="185.5" width="1.2" height="2.4" fill="#fff" stroke="#000" stroke-width="0"/>
<rect x="474.0" y="190.5" width="2.5" height="0.8" fill="#ccc" stroke="#000" stroke-width="0"/>
<rect x="491.7" y="171.0" width="5.0" height="4.0" fill="#fff" stroke="#000" stroke-width="0"/>
<rect x="489.0" y="168.0" width="1.2" height="1.2" fill="#fff" stroke="#000" stroke-width="0"/>
<rect x="498.5" y="169.5" width="1.0" height="2.0" fill="#fff" stroke="#000" stroke-width="0"/>
<rect x="490.0" y="185.5" width="1.2" height="2.4" fill="#fff" stroke="#000" stroke-width="0"/>
<rect x="492.8" y="185.5" width="1.2" height="2.4" fill="#fff" stroke="#000" stroke-width="0"/>
<rect x="497.0" y="185.5" width="1.2" height="2.4" fill="#fff" stroke="#000" stroke-width="0"/>
<rect x="489.5" y="190.5" width="2.5" height="0.8" fill="#ccc" stroke="#000" stroke-width="0"/>
<rect x="459.2" y="171.2" width="3.0" height="1.8" fill="#fff" stroke="#000" stroke-width="0"/>
<rect x="460.0" y="184.6" width="2.2" height="1.6" fill="#fff" stroke="#000" stroke-width="0"/>
<rect x="505.0" y="168.5" width="3.6" height="3.5" fill="#fff" stroke="#000" stroke-width="0"/>
<rect x="516.0" y="171.5" width="4.5" height="1.2" fill="#ddd" stroke="#000" stroke-width="0"/>
<rect x="516.0" y="184.5" width="4.5" height="1.2" fill="#ddd" stroke="#000" stroke-width="0"/>
<rect x="525.0" y="171.5" width="4.5" height="1.2" fill="#ddd" stroke="#000" stroke-width="0"/>
<rect x="525.0" y="184.5" width="4.5" height="1.2" fill="#ddd" stroke="#000" stroke-width="0"/>
<line x1="522.4" y1="169.5" x2="522.4" y2="188" stroke="#999" stroke-width="0.6"/>
<rect x="503.2" y="164.5" width="7.4" height="29.1" fill="#000" stroke="#000" stroke-width="0"/>
<text x="472.8" y="163.3" font-size="5.4" text-anchor="start" fill="#22306e" font-weight="normal" textLength="13.4" lengthAdjust="spacingAndGlyphs" stroke="#22306e" stroke-width="0.14">PSU1</text>
<text x="488.0" y="163.3" font-size="5.4" text-anchor="start" fill="#22306e" font-weight="normal" textLength="13.4" lengthAdjust="spacingAndGlyphs" stroke="#22306e" stroke-width="0.14">PSU2</text>
<text x="503.6" y="199.0" font-size="5.4" text-anchor="start" fill="#22306e" font-weight="normal" textLength="6.8" lengthAdjust="spacingAndGlyphs" stroke="#22306e" stroke-width="0.14">D1</text>
<rect x="513.4" y="168.7" width="18.0" height="20.0" fill="#000" stroke="#000" stroke-width="0"/>
<text x="514.0" y="168.6" font-size="5.4" text-anchor="start" fill="#22306e" font-weight="normal" textLength="16.5" lengthAdjust="spacingAndGlyphs" stroke="#22306e" stroke-width="0.14">DC1-2</text>
<rect x="537.4" y="172.0" width="10.0" height="14.0" fill="#000" stroke="#000" stroke-width="0" rx="1"/>
<text x="537.0" y="170.6" font-size="5.4" text-anchor="start" fill="#22306e" font-weight="normal" textLength="14.5" lengthAdjust="spacingAndGlyphs" stroke="#22306e" stroke-width="0.14">F1-F7</text>
<text x="537.0" y="191.8" font-size="5.4" text-anchor="start" fill="#22306e" font-weight="normal" textLength="12.5" lengthAdjust="spacingAndGlyphs" stroke="#22306e" stroke-width="0.14">24V-</text>
<rect x="422.4" y="240.3" width="131.0" height="6.099999999999994" fill="#000" stroke="#000" stroke-width="0"/>
<rect x="422.4" y="241.97750000000002" width="131.0" height="2.7449999999999974" fill="#f0f0f0" stroke="#000" stroke-width="0"/>
<line x1="422.4" y1="243.35000000000002" x2="553.4" y2="243.35000000000002" stroke="#333" stroke-width="2.7449999999999974" stroke-dasharray="0.6 2.6"/>
<rect x="432.3" y="232.8" width="38.2" height="22.2" fill="#000" stroke="#000" stroke-width="0"/>
<rect x="433.6" y="234.6" width="7.6" height="5.2" fill="#fff" stroke="#000" stroke-width="0"/>
<rect x="433.6" y="251.3" width="7.6" height="2.5" fill="#fff" stroke="#000" stroke-width="0"/>
<rect x="443.0" y="236.6" width="26.0" height="3.7" fill="#fff" stroke="#000" stroke-width="0"/>
<rect x="448.5" y="236.6" width="1.6" height="2.0" fill="#000" stroke="#000" stroke-width="0"/>
<rect x="455.0" y="236.6" width="1.6" height="2.0" fill="#000" stroke="#000" stroke-width="0"/>
<rect x="462.0" y="236.6" width="1.6" height="2.0" fill="#000" stroke="#000" stroke-width="0"/>
<rect x="444.5" y="243.0" width="1.1" height="1.6" fill="#fff" stroke="#000" stroke-width="0"/>
<rect x="451.0" y="243.0" width="1.1" height="1.6" fill="#fff" stroke="#000" stroke-width="0"/>
<rect x="456.0" y="243.0" width="1.1" height="1.6" fill="#fff" stroke="#000" stroke-width="0"/>
<rect x="462.0" y="243.0" width="1.1" height="1.6" fill="#fff" stroke="#000" stroke-width="0"/>
<rect x="465.0" y="243.0" width="1.1" height="1.6" fill="#fff" stroke="#000" stroke-width="0"/>
<rect x="443.3" y="253.4" width="26.0" height="0.9" fill="#ccc" stroke="#000" stroke-width="0"/>
<line x1="433.6" y1="243.4" x2="441.3" y2="243.4" stroke="#fff" stroke-width="1.4" stroke-dasharray="1.8 0.8"/>
<text x="445.3" y="231.8" font-size="5.4" text-anchor="start" fill="#22306e" font-weight="normal" textLength="15.5" lengthAdjust="spacingAndGlyphs" stroke="#22306e" stroke-width="0.14">GTW1</text>
<rect x="473.4" y="232.8" width="38.2" height="22.2" fill="#000" stroke="#000" stroke-width="0"/>
<rect x="474.7" y="234.6" width="7.6" height="5.2" fill="#fff" stroke="#000" stroke-width="0"/>
<rect x="474.7" y="251.3" width="7.6" height="2.5" fill="#fff" stroke="#000" stroke-width="0"/>
<rect x="484.09999999999997" y="236.6" width="26.0" height="3.7" fill="#fff" stroke="#000" stroke-width="0"/>
<rect x="489.59999999999997" y="236.6" width="1.6" height="2.0" fill="#000" stroke="#000" stroke-width="0"/>
<rect x="496.09999999999997" y="236.6" width="1.6" height="2.0" fill="#000" stroke="#000" stroke-width="0"/>
<rect x="503.09999999999997" y="236.6" width="1.6" height="2.0" fill="#000" stroke="#000" stroke-width="0"/>
<rect x="485.59999999999997" y="243.0" width="1.1" height="1.6" fill="#fff" stroke="#000" stroke-width="0"/>
<rect x="492.09999999999997" y="243.0" width="1.1" height="1.6" fill="#fff" stroke="#000" stroke-width="0"/>
<rect x="497.09999999999997" y="243.0" width="1.1" height="1.6" fill="#fff" stroke="#000" stroke-width="0"/>
<rect x="503.09999999999997" y="243.0" width="1.1" height="1.6" fill="#fff" stroke="#000" stroke-width="0"/>
<rect x="506.09999999999997" y="243.0" width="1.1" height="1.6" fill="#fff" stroke="#000" stroke-width="0"/>
<rect x="484.4" y="253.4" width="26.0" height="0.9" fill="#ccc" stroke="#000" stroke-width="0"/>
<line x1="474.7" y1="243.4" x2="482.4" y2="243.4" stroke="#fff" stroke-width="1.4" stroke-dasharray="1.8 0.8"/>
<text x="486.4" y="231.8" font-size="5.4" text-anchor="start" fill="#22306e" font-weight="normal" textLength="15.5" lengthAdjust="spacingAndGlyphs" stroke="#22306e" stroke-width="0.14">GTW2</text>
<rect x="514.4" y="232.8" width="38.2" height="22.2" fill="#000" stroke="#000" stroke-width="0"/>
<rect x="515.6999999999999" y="234.6" width="7.6" height="5.2" fill="#fff" stroke="#000" stroke-width="0"/>
<rect x="515.6999999999999" y="251.3" width="7.6" height="2.5" fill="#fff" stroke="#000" stroke-width="0"/>
<rect x="525.1" y="236.6" width="26.0" height="3.7" fill="#fff" stroke="#000" stroke-width="0"/>
<rect x="530.6" y="236.6" width="1.6" height="2.0" fill="#000" stroke="#000" stroke-width="0"/>
<rect x="537.1" y="236.6" width="1.6" height="2.0" fill="#000" stroke="#000" stroke-width="0"/>
<rect x="544.1" y="236.6" width="1.6" height="2.0" fill="#000" stroke="#000" stroke-width="0"/>
<rect x="526.6" y="243.0" width="1.1" height="1.6" fill="#fff" stroke="#000" stroke-width="0"/>
<rect x="533.1" y="243.0" width="1.1" height="1.6" fill="#fff" stroke="#000" stroke-width="0"/>
<rect x="538.1" y="243.0" width="1.1" height="1.6" fill="#fff" stroke="#000" stroke-width="0"/>
<rect x="544.1" y="243.0" width="1.1" height="1.6" fill="#fff" stroke="#000" stroke-width="0"/>
<rect x="547.1" y="243.0" width="1.1" height="1.6" fill="#fff" stroke="#000" stroke-width="0"/>
<rect x="525.4" y="253.4" width="26.0" height="0.9" fill="#ccc" stroke="#000" stroke-width="0"/>
<line x1="515.6999999999999" y1="243.4" x2="523.4" y2="243.4" stroke="#fff" stroke-width="1.4" stroke-dasharray="1.8 0.8"/>
<text x="527.4" y="231.8" font-size="5.4" text-anchor="start" fill="#22306e" font-weight="normal" textLength="15.5" lengthAdjust="spacingAndGlyphs" stroke="#22306e" stroke-width="0.14">GTW3</text>
<g>
<line x1="590.0" y1="80.1" x2="590.0" y2="290.2" stroke="#000" stroke-width="1.1"/>
<line x1="590.0" y1="290.2" x2="596.5" y2="290.2" stroke="#000" stroke-width="0.9"/>
<line x1="590.0" y1="288.1" x2="594.0" y2="288.1" stroke="#000" stroke-width="0.9"/>
<line x1="590.0" y1="286.0" x2="594.0" y2="286.0" stroke="#000" stroke-width="0.9"/>
<line x1="590.0" y1="283.9" x2="594.0" y2="283.9" stroke="#000" stroke-width="0.9"/>
<line x1="590.0" y1="281.8" x2="594.0" y2="281.8" stroke="#000" stroke-width="0.9"/>
<line x1="590.0" y1="279.69" x2="596.5" y2="279.69" stroke="#000" stroke-width="0.9"/>
<line x1="590.0" y1="277.59" x2="594.0" y2="277.59" stroke="#000" stroke-width="0.9"/>
<line x1="590.0" y1="275.49" x2="594.0" y2="275.49" stroke="#000" stroke-width="0.9"/>
<line x1="590.0" y1="273.39" x2="594.0" y2="273.39" stroke="#000" stroke-width="0.9"/>
<line x1="590.0" y1="271.29" x2="594.0" y2="271.29" stroke="#000" stroke-width="0.9"/>
<line x1="590.0" y1="269.19" x2="596.5" y2="269.19" stroke="#000" stroke-width="0.9"/>
<line x1="590.0" y1="267.09" x2="594.0" y2="267.09" stroke="#000" stroke-width="0.9"/>
<line x1="590.0" y1="264.99" x2="594.0" y2="264.99" stroke="#000" stroke-width="0.9"/>
<line x1="590.0" y1="262.89" x2="594.0" y2="262.89" stroke="#000" stroke-width="0.9"/>
<line x1="590.0" y1="260.79" x2="594.0" y2="260.79" stroke="#000" stroke-width="0.9"/>
<line x1="590.0" y1="258.69" x2="596.5" y2="258.69" stroke="#000" stroke-width="0.9"/>
<line x1="590.0" y1="256.58" x2="594.0" y2="256.58" stroke="#000" stroke-width="0.9"/>
<line x1="590.0" y1="254.48" x2="594.0" y2="254.48" stroke="#000" stroke-width="0.9"/>
<line x1="590.0" y1="252.38" x2="594.0" y2="252.38" stroke="#000" stroke-width="0.9"/>
<line x1="590.0" y1="250.28" x2="594.0" y2="250.28" stroke="#000" stroke-width="0.9"/>
<line x1="590.0" y1="248.18" x2="596.5" y2="248.18" stroke="#000" stroke-width="0.9"/>
<line x1="590.0" y1="246.08" x2="594.0" y2="246.08" stroke="#000" stroke-width="0.9"/>
<line x1="590.0" y1="243.98" x2="594.0" y2="243.98" stroke="#000" stroke-width="0.9"/>
<line x1="590.0" y1="241.88" x2="594.0" y2="241.88" stroke="#000" stroke-width="0.9"/>
<line x1="590.0" y1="239.78" x2="594.0" y2="239.78" stroke="#000" stroke-width="0.9"/>
<line x1="590.0" y1="237.67" x2="596.5" y2="237.67" stroke="#000" stroke-width="0.9"/>
<line x1="590.0" y1="235.57" x2="594.0" y2="235.57" stroke="#000" stroke-width="0.9"/>
<line x1="590.0" y1="233.47" x2="594.0" y2="233.47" stroke="#000" stroke-width="0.9"/>
<line x1="590.0" y1="231.37" x2="594.0" y2="231.37" stroke="#000" stroke-width="0.9"/>
<line x1="590.0" y1="229.27" x2="594.0" y2="229.27" stroke="#000" stroke-width="0.9"/>
<line x1="590.0" y1="227.17" x2="596.5" y2="227.17" stroke="#000" stroke-width="0.9"/>
<line x1="590.0" y1="225.07" x2="594.0" y2="225.07" stroke="#000" stroke-width="0.9"/>
<line x1="590.0" y1="222.97" x2="594.0" y2="222.97" stroke="#000" stroke-width="0.9"/>
<line x1="590.0" y1="220.87" x2="594.0" y2="220.87" stroke="#000" stroke-width="0.9"/>
<line x1="590.0" y1="218.77" x2="594.0" y2="218.77" stroke="#000" stroke-width="0.9"/>
<line x1="590.0" y1="216.66" x2="596.5" y2="216.66" stroke="#000" stroke-width="0.9"/>
<line x1="590.0" y1="214.56" x2="594.0" y2="214.56" stroke="#000" stroke-width="0.9"/>
<line x1="590.0" y1="212.46" x2="594.0" y2="212.46" stroke="#000" stroke-width="0.9"/>
<line x1="590.0" y1="210.36" x2="594.0" y2="210.36" stroke="#000" stroke-width="0.9"/>
<line x1="590.0" y1="208.26" x2="594.0" y2="208.26" stroke="#000" stroke-width="0.9"/>
<line x1="590.0" y1="206.16" x2="596.5" y2="206.16" stroke="#000" stroke-width="0.9"/>
<line x1="590.0" y1="204.06" x2="594.0" y2="204.06" stroke="#000" stroke-width="0.9"/>
<line x1="590.0" y1="201.96" x2="594.0" y2="201.96" stroke="#000" stroke-width="0.9"/>
<line x1="590.0" y1="199.86" x2="594.0" y2="199.86" stroke="#000" stroke-width="0.9"/>
<line x1="590.0" y1="197.76" x2="594.0" y2="197.76" stroke="#000" stroke-width="0.9"/>
<line x1="590.0" y1="195.66" x2="596.5" y2="195.66" stroke="#000" stroke-width="0.9"/>
<line x1="590.0" y1="193.55" x2="594.0" y2="193.55" stroke="#000" stroke-width="0.9"/>
<line x1="590.0" y1="191.45" x2="594.0" y2="191.45" stroke="#000" stroke-width="0.9"/>
<line x1="590.0" y1="189.35" x2="594.0" y2="189.35" stroke="#000" stroke-width="0.9"/>
<line x1="590.0" y1="187.25" x2="594.0" y2="187.25" stroke="#000" stroke-width="0.9"/>
<line x1="590.0" y1="185.15" x2="596.5" y2="185.15" stroke="#000" stroke-width="0.9"/>
<line x1="590.0" y1="183.05" x2="594.0" y2="183.05" stroke="#000" stroke-width="0.9"/>
<line x1="590.0" y1="180.95" x2="594.0" y2="180.95" stroke="#000" stroke-width="0.9"/>
<line x1="590.0" y1="178.85" x2="594.0" y2="178.85" stroke="#000" stroke-width="0.9"/>
<line x1="590.0" y1="176.75" x2="594.0" y2="176.75" stroke="#000" stroke-width="0.9"/>
<line x1="590.0" y1="174.64" x2="596.5" y2="174.64" stroke="#000" stroke-width="0.9"/>
<line x1="590.0" y1="172.54" x2="594.0" y2="172.54" stroke="#000" stroke-width="0.9"/>
<line x1="590.0" y1="170.44" x2="594.0" y2="170.44" stroke="#000" stroke-width="0.9"/>
<line x1="590.0" y1="168.34" x2="594.0" y2="168.34" stroke="#000" stroke-width="0.9"/>
<line x1="590.0" y1="166.24" x2="594.0" y2="166.24" stroke="#000" stroke-width="0.9"/>
<line x1="590.0" y1="164.14" x2="596.5" y2="164.14" stroke="#000" stroke-width="0.9"/>
<line x1="590.0" y1="162.04" x2="594.0" y2="162.04" stroke="#000" stroke-width="0.9"/>
<line x1="590.0" y1="159.94" x2="594.0" y2="159.94" stroke="#000" stroke-width="0.9"/>
<line x1="590.0" y1="157.84" x2="594.0" y2="157.84" stroke="#000" stroke-width="0.9"/>
<line x1="590.0" y1="155.74" x2="594.0" y2="155.74" stroke="#000" stroke-width="0.9"/>
<line x1="590.0" y1="153.63" x2="596.5" y2="153.63" stroke="#000" stroke-width="0.9"/>
<line x1="590.0" y1="151.53" x2="594.0" y2="151.53" stroke="#000" stroke-width="0.9"/>
<line x1="590.0" y1="149.43" x2="594.0" y2="149.43" stroke="#000" stroke-width="0.9"/>
<line x1="590.0" y1="147.33" x2="594.0" y2="147.33" stroke="#000" stroke-width="0.9"/>
<line x1="590.0" y1="145.23" x2="594.0" y2="145.23" stroke="#000" stroke-width="0.9"/>
<line x1="590.0" y1="143.13" x2="596.5" y2="143.13" stroke="#000" stroke-width="0.9"/>
<line x1="590.0" y1="141.03" x2="594.0" y2="141.03" stroke="#000" stroke-width="0.9"/>
<line x1="590.0" y1="138.93" x2="594.0" y2="138.93" stroke="#000" stroke-width="0.9"/>
<line x1="590.0" y1="136.83" x2="594.0" y2="136.83" stroke="#000" stroke-width="0.9"/>
<line x1="590.0" y1="134.73" x2="594.0" y2="134.73" stroke="#000" stroke-width="0.9"/>
<line x1="590.0" y1="132.62" x2="596.5" y2="132.62" stroke="#000" stroke-width="0.9"/>
<line x1="590.0" y1="130.52" x2="594.0" y2="130.52" stroke="#000" stroke-width="0.9"/>
<line x1="590.0" y1="128.42" x2="594.0" y2="128.42" stroke="#000" stroke-width="0.9"/>
<line x1="590.0" y1="126.32" x2="594.0" y2="126.32" stroke="#000" stroke-width="0.9"/>
<line x1="590.0" y1="124.22" x2="594.0" y2="124.22" stroke="#000" stroke-width="0.9"/>
<line x1="590.0" y1="122.12" x2="596.5" y2="122.12" stroke="#000" stroke-width="0.9"/>
<line x1="590.0" y1="120.02" x2="594.0" y2="120.02" stroke="#000" stroke-width="0.9"/>
<line x1="590.0" y1="117.92" x2="594.0" y2="117.92" stroke="#000" stroke-width="0.9"/>
<line x1="590.0" y1="115.82" x2="594.0" y2="115.82" stroke="#000" stroke-width="0.9"/>
<line x1="590.0" y1="113.72" x2="594.0" y2="113.72" stroke="#000" stroke-width="0.9"/>
<line x1="590.0" y1="111.62" x2="596.5" y2="111.62" stroke="#000" stroke-width="0.9"/>
<line x1="590.0" y1="109.51" x2="594.0" y2="109.51" stroke="#000" stroke-width="0.9"/>
<line x1="590.0" y1="107.41" x2="594.0" y2="107.41" stroke="#000" stroke-width="0.9"/>
<line x1="590.0" y1="105.31" x2="594.0" y2="105.31" stroke="#000" stroke-width="0.9"/>
<line x1="590.0" y1="103.21" x2="594.0" y2="103.21" stroke="#000" stroke-width="0.9"/>
<line x1="590.0" y1="101.11" x2="596.5" y2="101.11" stroke="#000" stroke-width="0.9"/>
<line x1="590.0" y1="99.01" x2="594.0" y2="99.01" stroke="#000" stroke-width="0.9"/>
<line x1="590.0" y1="96.91" x2="594.0" y2="96.91" stroke="#000" stroke-width="0.9"/>
<line x1="590.0" y1="94.81" x2="594.0" y2="94.81" stroke="#000" stroke-width="0.9"/>
<line x1="590.0" y1="92.71" x2="594.0" y2="92.71" stroke="#000" stroke-width="0.9"/>
<line x1="590.0" y1="90.61" x2="596.5" y2="90.61" stroke="#000" stroke-width="0.9"/>
<line x1="590.0" y1="88.5" x2="594.0" y2="88.5" stroke="#000" stroke-width="0.9"/>
<line x1="590.0" y1="86.4" x2="594.0" y2="86.4" stroke="#000" stroke-width="0.9"/>
<line x1="590.0" y1="84.3" x2="594.0" y2="84.3" stroke="#000" stroke-width="0.9"/>
<line x1="590.0" y1="82.2" x2="594.0" y2="82.2" stroke="#000" stroke-width="0.9"/>
<line x1="590.0" y1="80.1" x2="596.5" y2="80.1" stroke="#000" stroke-width="0.9"/>
</g>
<text x="582.5" y="81.6" font-size="4.2" text-anchor="end" fill="#2c2c48" font-weight="bold">1000</text>
<text x="582.5" y="102.61" font-size="4.2" text-anchor="end" fill="#2c2c48" font-weight="bold">900</text>
<text x="582.5" y="123.62" font-size="4.2" text-anchor="end" fill="#2c2c48" font-weight="bold">800</text>
<text x="582.5" y="144.63" font-size="4.2" text-anchor="end" fill="#2c2c48" font-weight="bold">700</text>
<text x="582.5" y="165.64" font-size="4.2" text-anchor="end" fill="#2c2c48" font-weight="bold">600</text>
<text x="582.5" y="186.65" font-size="4.2" text-anchor="end" fill="#2c2c48" font-weight="bold">500</text>
<text x="582.5" y="207.66" font-size="4.2" text-anchor="end" fill="#2c2c48" font-weight="bold">400</text>
<text x="582.5" y="228.67" font-size="4.2" text-anchor="end" fill="#2c2c48" font-weight="bold">300</text>
<text x="582.5" y="249.68" font-size="4.2" text-anchor="end" fill="#2c2c48" font-weight="bold">200</text>
<text x="582.5" y="270.69" font-size="4.2" text-anchor="end" fill="#2c2c48" font-weight="bold">100</text>
<text x="582.5" y="291.7" font-size="4.2" text-anchor="end" fill="#2c2c48" font-weight="bold">0</text>
<rect x="602.5" y="80.4" width="62.1" height="208.7" fill="none" stroke="#000" stroke-width="1.3"/>
<line x1="664.6" y1="80.4" x2="664.6" y2="289.1" stroke="#000" stroke-width="1.5"/>
<line x1="606.5" y1="80.4" x2="606.5" y2="289.1" stroke="#000" stroke-width="2"/>
<line x1="604.0" y1="307.1" x2="668.2" y2="307.1" stroke="#000" stroke-width="1.1"/>
<line x1="604.0" y1="307.1" x2="604.0" y2="300.6" stroke="#000" stroke-width="0.9"/>
<line x1="606.14" y1="307.1" x2="606.14" y2="303.1" stroke="#000" stroke-width="0.9"/>
<line x1="608.28" y1="307.1" x2="608.28" y2="303.1" stroke="#000" stroke-width="0.9"/>
<line x1="610.42" y1="307.1" x2="610.42" y2="303.1" stroke="#000" stroke-width="0.9"/>
<line x1="612.56" y1="307.1" x2="612.56" y2="303.1" stroke="#000" stroke-width="0.9"/>
<line x1="614.7" y1="307.1" x2="614.7" y2="300.6" stroke="#000" stroke-width="0.9"/>
<line x1="616.84" y1="307.1" x2="616.84" y2="303.1" stroke="#000" stroke-width="0.9"/>
<line x1="618.98" y1="307.1" x2="618.98" y2="303.1" stroke="#000" stroke-width="0.9"/>
<line x1="621.12" y1="307.1" x2="621.12" y2="303.1" stroke="#000" stroke-width="0.9"/>
<line x1="623.26" y1="307.1" x2="623.26" y2="303.1" stroke="#000" stroke-width="0.9"/>
<line x1="625.4" y1="307.1" x2="625.4" y2="300.6" stroke="#000" stroke-width="0.9"/>
<line x1="627.54" y1="307.1" x2="627.54" y2="303.1" stroke="#000" stroke-width="0.9"/>
<line x1="629.68" y1="307.1" x2="629.68" y2="303.1" stroke="#000" stroke-width="0.9"/>
<line x1="631.82" y1="307.1" x2="631.82" y2="303.1" stroke="#000" stroke-width="0.9"/>
<line x1="633.96" y1="307.1" x2="633.96" y2="303.1" stroke="#000" stroke-width="0.9"/>
<line x1="636.1" y1="307.1" x2="636.1" y2="300.6" stroke="#000" stroke-width="0.9"/>
<line x1="638.24" y1="307.1" x2="638.24" y2="303.1" stroke="#000" stroke-width="0.9"/>
<line x1="640.38" y1="307.1" x2="640.38" y2="303.1" stroke="#000" stroke-width="0.9"/>
<line x1="642.52" y1="307.1" x2="642.52" y2="303.1" stroke="#000" stroke-width="0.9"/>
<line x1="644.66" y1="307.1" x2="644.66" y2="303.1" stroke="#000" stroke-width="0.9"/>
<line x1="646.8" y1="307.1" x2="646.8" y2="300.6" stroke="#000" stroke-width="0.9"/>
<line x1="648.94" y1="307.1" x2="648.94" y2="303.1" stroke="#000" stroke-width="0.9"/>
<line x1="651.08" y1="307.1" x2="651.08" y2="303.1" stroke="#000" stroke-width="0.9"/>
<line x1="653.22" y1="307.1" x2="653.22" y2="303.1" stroke="#000" stroke-width="0.9"/>
<line x1="655.36" y1="307.1" x2="655.36" y2="303.1" stroke="#000" stroke-width="0.9"/>
<line x1="657.5" y1="307.1" x2="657.5" y2="300.6" stroke="#000" stroke-width="0.9"/>
<line x1="659.64" y1="307.1" x2="659.64" y2="303.1" stroke="#000" stroke-width="0.9"/>
<line x1="661.78" y1="307.1" x2="661.78" y2="303.1" stroke="#000" stroke-width="0.9"/>
<line x1="663.92" y1="307.1" x2="663.92" y2="303.1" stroke="#000" stroke-width="0.9"/>
<line x1="666.06" y1="307.1" x2="666.06" y2="303.1" stroke="#000" stroke-width="0.9"/>
<line x1="668.2" y1="307.1" x2="668.2" y2="300.6" stroke="#000" stroke-width="0.9"/>
<text x="605.9" y="315.70000000000005" font-size="4.2" text-anchor="middle" fill="#2c2c48" font-weight="bold">0</text>
<text x="627.3" y="318.8" font-size="4.2" text-anchor="middle" fill="#2c2c48" font-weight="bold">100</text>
<text x="648.7" y="318.8" font-size="4.2" text-anchor="middle" fill="#2c2c48" font-weight="bold">200</text>
<text x="670.1" y="318.8" font-size="4.2" text-anchor="middle" fill="#2c2c48" font-weight="bold">300</text>
<rect x="600.6" y="95.2" width="2.0" height="11" fill="#000" stroke="#000" stroke-width="0" rx="1"/>
<polygon points="605.6,85.5 603.4,87.1 605.6,88.7" fill="#000"/>
<polygon points="605.6,91.0 603.4,92.6 605.6,94.2" fill="#000"/>
<polygon points="605.6,99.5 603.4,101.1 605.6,102.7" fill="#000"/>
<polygon points="605.6,267.0 603.4,268.6 605.6,270.2" fill="#000"/>
<polygon points="605.6,273.5 603.4,275.1 605.6,276.7" fill="#000"/>
<polygon points="605.6,278.5 603.4,280.1 605.6,281.7" fill="#000"/>
<rect x="636.0" y="79.3" width="4.5" height="1.4" fill="#000" stroke="#000" stroke-width="0"/>
<line x1="606.5" y1="101.0" x2="611.0" y2="101.0" stroke="#000" stroke-width="1.2"/>
<path d="M657.5 84.2 Q660 83.2 662 84.3 L661.7 86 Q659.5 86.5 657.5 85.6 Z" fill="#000"/>
<rect x="620.2" y="99.0" width="24.59999999999991" height="25.0" fill="#000"/>
<rect x="621.7" y="115.2" width="21.59999999999991" height="7.2" fill="#8a8a8a" stroke="#000" stroke-width="0"/>
<line x1="621.7" y1="118.8" x2="643.3" y2="118.8" stroke="#aaa" stroke-width="0.6"/>
<line x1="621.7" y1="101.4" x2="643.3" y2="101.4" stroke="#f4f4f4" stroke-width="0.9"/>
<line x1="621.7" y1="103.4" x2="643.3" y2="103.4" stroke="#f4f4f4" stroke-width="0.9"/>
<line x1="621.7" y1="105.4" x2="643.3" y2="105.4" stroke="#f4f4f4" stroke-width="0.9"/>
<line x1="621.7" y1="107.4" x2="643.3" y2="107.4" stroke="#f4f4f4" stroke-width="0.9"/>
<line x1="621.7" y1="109.4" x2="643.3" y2="109.4" stroke="#f4f4f4" stroke-width="0.9"/>
<line x1="621.7" y1="111.4" x2="643.3" y2="111.4" stroke="#f4f4f4" stroke-width="0.9"/>
<line x1="621.7" y1="113.4" x2="643.3" y2="113.4" stroke="#f4f4f4" stroke-width="0.9"/>
<line x1="621.7" y1="100.0" x2="643.3" y2="100.0" stroke="#ccc" stroke-width="0.5"/>
<line x1="649.1" y1="80.6" x2="649.1" y2="88.0" stroke="#000" stroke-width="0.9"/>
<polygon points="649.1,80.9 647.75,83.9 650.45,83.9" fill="#000"/>
<line x1="649.1" y1="104.0" x2="649.1" y2="112.0" stroke="#000" stroke-width="0.9"/>
<polygon points="649.1,112.0 647.75,109.0 650.45,109.0" fill="#000"/>
<line x1="649.1" y1="112.0" x2="653.5" y2="112.0" stroke="#000" stroke-width="0.9"/>
<text x="651.4" y="95.3" font-size="7.0" text-anchor="middle" fill="#1c2458" font-weight="normal" textLength="11.0" lengthAdjust="spacingAndGlyphs" transform="rotate(-90 651.4 95.3)" stroke="#1c2458" stroke-width="0.14">150</text>
<text x="643.1" y="129.0" font-size="7.0" text-anchor="start" fill="#1c2458" font-weight="normal" textLength="10.8" lengthAdjust="spacingAndGlyphs" stroke="#1c2458" stroke-width="0.14">150</text>
<line x1="657.0" y1="126.5" x2="667.0" y2="126.5" stroke="#000" stroke-width="1.0"/>
<polygon points="657.0,126.5 661.0,124.7 661.0,128.3" fill="#000"/>
<line x1="630.0" y1="126.5" x2="640.0" y2="126.5" stroke="#000" stroke-width="1.0"/>
<polygon points="640.3,126.5 636.3,124.7 636.3,128.3" fill="#000"/>
<line x1="632.5" y1="126.3" x2="632.5" y2="130.0" stroke="#000" stroke-width="1.1"/>
<rect x="600.6" y="262.5" width="2.0" height="11" fill="#000" stroke="#000" stroke-width="0" rx="1"/>
<line x1="608.5" y1="268.0" x2="611.0" y2="268.0" stroke="#000" stroke-width="1.2"/>
<rect x="620.5" y="283.2" width="1.5" height="1.5" fill="#000" stroke="#000" stroke-width="0"/>
<rect x="607.0" y="288.0" width="60" height="1.2" fill="#000" stroke="#000" stroke-width="0"/>
<line x1="658.5" y1="284.0" x2="664.2" y2="284.0" stroke="#000" stroke-width="1.2"/>
<rect x="10.6" y="332.7" width="124.1" height="106.9" fill="none" stroke="#000" stroke-width="1.3"/>
<line x1="10.6" y1="341.5" x2="134.7" y2="341.5" stroke="#111" stroke-width="1.0"/>
<line x1="68.3" y1="341.4" x2="68.3" y2="439.6" stroke="#000" stroke-width="1.1"/>
<text x="13.8" y="346.3" font-size="4.1" text-anchor="start" fill="#1a1a48" font-weight="normal" textLength="23.07" lengthAdjust="spacingAndGlyphs" stroke="#1a1a48" stroke-width="0.05">PANEL TYPE</text>
<text x="71.9" y="346.3" font-size="4.1" text-anchor="start" fill="#1a1a48" font-weight="normal" textLength="10.4" lengthAdjust="spacingAndGlyphs" stroke="#1a1a48" stroke-width="0.03">ANSP</text>
<line x1="10.6" y1="347.5" x2="134.7" y2="347.5" stroke="#111" stroke-width="1.0"/>
<text x="13.8" y="352.85" font-size="4.1" text-anchor="start" fill="#1a1a48" font-weight="normal" textLength="38.98" lengthAdjust="spacingAndGlyphs" stroke="#1a1a48" stroke-width="0.05">ENCLOSURE RATING</text>
<text x="71.9" y="352.85" font-size="4.1" text-anchor="start" fill="#1a1a48" font-weight="normal" textLength="7.86" lengthAdjust="spacingAndGlyphs" stroke="#1a1a48" stroke-width="0.03">IP31</text>
<line x1="10.6" y1="354.5" x2="134.7" y2="354.5" stroke="#111" stroke-width="1.0"/>
<text x="13.8" y="359.39" font-size="4.1" text-anchor="start" fill="#1a1a48" font-weight="normal" textLength="26.68" lengthAdjust="spacingAndGlyphs" stroke="#1a1a48" stroke-width="0.05">BUSBAR TYPE</text>
<text x="71.9" y="359.39" font-size="4.1" text-anchor="start" fill="#1a1a48" font-weight="normal" textLength="6.37" lengthAdjust="spacingAndGlyphs" stroke="#1a1a48" stroke-width="0.03">N/A</text>
<line x1="10.6" y1="361.5" x2="134.7" y2="361.5" stroke="#111" stroke-width="1.0"/>
<text x="13.8" y="365.94" font-size="4.1" text-anchor="start" fill="#1a1a48" font-weight="normal" textLength="33.81" lengthAdjust="spacingAndGlyphs" stroke="#1a1a48" stroke-width="0.05">CURRENT RATING</text>
<text x="71.9" y="365.94" font-size="4.1" text-anchor="start" fill="#1a1a48" font-weight="normal" textLength="6.37" lengthAdjust="spacingAndGlyphs" stroke="#1a1a48" stroke-width="0.03">N/A</text>
<line x1="10.6" y1="367.5" x2="134.7" y2="367.5" stroke="#111" stroke-width="1.0"/>
<text x="13.8" y="372.49" font-size="4.1" text-anchor="start" fill="#1a1a48" font-weight="normal" textLength="17.48" lengthAdjust="spacingAndGlyphs" stroke="#1a1a48" stroke-width="0.05">VOLTAGE</text>
<text x="71.9" y="372.49" font-size="4.1" text-anchor="start" fill="#1a1a48" font-weight="normal" textLength="26.26" lengthAdjust="spacingAndGlyphs" stroke="#1a1a48" stroke-width="0.03">240VAC 1PH/N</text>
<line x1="10.6" y1="374.5" x2="134.7" y2="374.5" stroke="#111" stroke-width="1.0"/>
<text x="13.8" y="379.03" font-size="4.1" text-anchor="start" fill="#1a1a48" font-weight="normal" textLength="42.73" lengthAdjust="spacingAndGlyphs" stroke="#1a1a48" stroke-width="0.05">FORM OF SEPARATION</text>
<text x="71.9" y="379.03" font-size="4.1" text-anchor="start" fill="#1a1a48" font-weight="normal" textLength="14.43" lengthAdjust="spacingAndGlyphs" stroke="#1a1a48" stroke-width="0.03">FORM 1</text>
<line x1="10.6" y1="380.5" x2="134.7" y2="380.5" stroke="#111" stroke-width="1.0"/>
<text x="13.8" y="385.58" font-size="4.1" text-anchor="start" fill="#1a1a48" font-weight="normal" textLength="36.02" lengthAdjust="spacingAndGlyphs" stroke="#1a1a48" stroke-width="0.05">CABLE ENTRY/EXIT</text>
<text x="71.9" y="385.58" font-size="4.1" text-anchor="start" fill="#1a1a48" font-weight="normal" textLength="7.78" lengthAdjust="spacingAndGlyphs" stroke="#1a1a48" stroke-width="0.03">TOP</text>
<line x1="10.6" y1="387.5" x2="134.7" y2="387.5" stroke="#111" stroke-width="1.0"/>
<text x="13.8" y="392.13" font-size="4.1" text-anchor="start" fill="#1a1a48" font-weight="normal" textLength="33.04" lengthAdjust="spacingAndGlyphs" stroke="#1a1a48" stroke-width="0.05">BUILD STANDARD</text>
<text x="71.9" y="392.13" font-size="4.1" text-anchor="start" fill="#1a1a48" font-weight="normal" textLength="20.39" lengthAdjust="spacingAndGlyphs" stroke="#1a1a48" stroke-width="0.03">IEC61439-2</text>
<line x1="10.6" y1="393.5" x2="134.7" y2="393.5" stroke="#111" stroke-width="1.0"/>
<text x="13.8" y="398.67" font-size="4.1" text-anchor="start" fill="#1a1a48" font-weight="normal" textLength="16.34" lengthAdjust="spacingAndGlyphs" stroke="#1a1a48" stroke-width="0.05">COLOUR</text>
<text x="71.9" y="398.67" font-size="4.1" text-anchor="start" fill="#1a1a48" font-weight="normal" textLength="45.93" lengthAdjust="spacingAndGlyphs" stroke="#1a1a48" stroke-width="0.03">RAL 7035 (GREY) RIPPLE</text>
<line x1="10.6" y1="400.5" x2="134.7" y2="400.5" stroke="#111" stroke-width="1.0"/>
<text x="13.8" y="405.22" font-size="4.1" text-anchor="start" fill="#1a1a48" font-weight="normal" textLength="14.43" lengthAdjust="spacingAndGlyphs" stroke="#1a1a48" stroke-width="0.05">HEIGHT</text>
<text x="71.9" y="405.22" font-size="4.1" text-anchor="start" fill="#1a1a48" font-weight="normal" textLength="14.86" lengthAdjust="spacingAndGlyphs" stroke="#1a1a48" stroke-width="0.03">1000mm</text>
<line x1="10.6" y1="406.5" x2="134.7" y2="406.5" stroke="#111" stroke-width="1.0"/>
<text x="13.8" y="411.77" font-size="4.1" text-anchor="start" fill="#1a1a48" font-weight="normal" textLength="12.52" lengthAdjust="spacingAndGlyphs" stroke="#1a1a48" stroke-width="0.05">WIDTH</text>
<text x="71.9" y="411.77" font-size="4.1" text-anchor="start" fill="#1a1a48" font-weight="normal" textLength="12.74" lengthAdjust="spacingAndGlyphs" stroke="#1a1a48" stroke-width="0.03">800mm</text>
<line x1="10.6" y1="413.5" x2="134.7" y2="413.5" stroke="#111" stroke-width="1.0"/>
<text x="13.8" y="418.31" font-size="4.1" text-anchor="start" fill="#1a1a48" font-weight="normal" textLength="12.95" lengthAdjust="spacingAndGlyphs" stroke="#1a1a48" stroke-width="0.05">DEPTH</text>
<text x="71.9" y="418.31" font-size="4.1" text-anchor="start" fill="#1a1a48" font-weight="normal" textLength="12.74" lengthAdjust="spacingAndGlyphs" stroke="#1a1a48" stroke-width="0.03">300mm</text>
<line x1="10.6" y1="419.5" x2="134.7" y2="419.5" stroke="#111" stroke-width="1.0"/>
<text x="13.8" y="424.86" font-size="4.1" text-anchor="start" fill="#1a1a48" font-weight="normal" textLength="18.82" lengthAdjust="spacingAndGlyphs" stroke="#1a1a48" stroke-width="0.05">MATERIAL</text>
<text x="71.9" y="424.86" font-size="4.1" text-anchor="start" fill="#1a1a48" font-weight="normal" textLength="24.84" lengthAdjust="spacingAndGlyphs" stroke="#1a1a48" stroke-width="0.03">1.5mm STEEL</text>
<line x1="10.6" y1="426.5" x2="134.7" y2="426.5" stroke="#111" stroke-width="1.0"/>
<text x="13.8" y="431.41" font-size="4.1" text-anchor="start" fill="#1a1a48" font-weight="normal" textLength="12.53" lengthAdjust="spacingAndGlyphs" stroke="#1a1a48" stroke-width="0.05">SCALE</text>
<text x="71.9" y="431.41" font-size="4.1" text-anchor="start" fill="#1a1a48" font-weight="normal" textLength="7.64" lengthAdjust="spacingAndGlyphs" stroke="#1a1a48" stroke-width="0.03">NTS</text>
<line x1="10.6" y1="433.5" x2="134.7" y2="433.5" stroke="#111" stroke-width="1.0"/>
<text x="13.8" y="437.95" font-size="4.1" text-anchor="start" fill="#1a1a48" font-weight="normal" textLength="42.59" lengthAdjust="spacingAndGlyphs" stroke="#1a1a48" stroke-width="0.05">WEIGHT (ENCLOSURE)</text>
<text x="71.9" y="437.95" font-size="4.1" text-anchor="start" fill="#1a1a48" font-weight="normal" textLength="8.28" lengthAdjust="spacingAndGlyphs" stroke="#1a1a48" stroke-width="0.03">52kg</text>
<text x="13.8" y="339.0" font-size="4.1" text-anchor="start" fill="#1a1a48" font-weight="normal" textLength="30.6" lengthAdjust="spacingAndGlyphs" stroke="#1a1a48" stroke-width="0.05">PANEL DETAILS:</text>
<rect x="143.3" y="332.7" width="140.6" height="106.9" fill="none" stroke="#000" stroke-width="1.3"/>
<line x1="143.3" y1="341.5" x2="283.9" y2="341.5" stroke="#111" stroke-width="1.0"/>
<line x1="143.3" y1="348.5" x2="283.9" y2="348.5" stroke="#111" stroke-width="1.0"/>
<line x1="143.3" y1="354.5" x2="283.9" y2="354.5" stroke="#111" stroke-width="1.0"/>
<line x1="143.3" y1="361.5" x2="283.9" y2="361.5" stroke="#111" stroke-width="1.0"/>
<line x1="143.3" y1="367.5" x2="283.9" y2="367.5" stroke="#111" stroke-width="1.0"/>
<line x1="143.3" y1="374.5" x2="283.9" y2="374.5" stroke="#111" stroke-width="1.0"/>
<line x1="143.3" y1="387.5" x2="283.9" y2="387.5" stroke="#111" stroke-width="1.0"/>
<line x1="143.3" y1="394.5" x2="283.9" y2="394.5" stroke="#111" stroke-width="1.0"/>
<line x1="143.3" y1="400.5" x2="283.9" y2="400.5" stroke="#111" stroke-width="1.0"/>
<line x1="143.3" y1="407.5" x2="283.9" y2="407.5" stroke="#111" stroke-width="1.0"/>
<line x1="143.3" y1="413.5" x2="283.9" y2="413.5" stroke="#111" stroke-width="1.0"/>
<line x1="143.3" y1="420.5" x2="283.9" y2="420.5" stroke="#111" stroke-width="1.0"/>
<line x1="143.3" y1="427.5" x2="283.9" y2="427.5" stroke="#111" stroke-width="1.0"/>
<line x1="143.3" y1="433.5" x2="283.9" y2="433.5" stroke="#111" stroke-width="1.0"/>
<line x1="226.4" y1="341.5" x2="226.4" y2="439.6" stroke="#000" stroke-width="1.1"/>
<text x="145.0" y="338.9" font-size="4.0" text-anchor="start" fill="#1a1a48" font-weight="normal" textLength="56.5" lengthAdjust="spacingAndGlyphs" stroke="#1a1a48" stroke-width="0.12">COMPONENT TORQUE CHART</text>
<text x="145.0" y="346.0" font-size="4.0" text-anchor="start" fill="#1a1a48" font-weight="normal" textLength="66.5" lengthAdjust="spacingAndGlyphs" stroke="#1a1a48" stroke-width="0.12">COMPONENT TERMINALS (FIELD):</text>
<text x="232.0" y="346.0" font-size="4.0" text-anchor="start" fill="#1a1a48" font-weight="normal" textLength="27.7" lengthAdjust="spacingAndGlyphs" stroke="#1a1a48" stroke-width="0.12">MAX TORQUE :</text>
<text x="145.0" y="352.6" font-size="4.0" text-anchor="start" fill="#1a1a48" font-weight="normal" textLength="16.5" lengthAdjust="spacingAndGlyphs" stroke="#1a1a48" stroke-width="0.12">MF1,MF2</text>
<text x="232.0" y="352.6" font-size="4.0" text-anchor="start" fill="#1a1a48" font-weight="normal" textLength="33.2" lengthAdjust="spacingAndGlyphs" stroke="#1a1a48" stroke-width="0.12">2.8Nm / 25 in-lbs</text>
<text x="145.0" y="372.2" font-size="4.0" text-anchor="start" fill="#1a1a48" font-weight="normal" textLength="66.5" lengthAdjust="spacingAndGlyphs" stroke="#1a1a48" stroke-width="0.12">COMPONENT TERMINALS (FIELD):</text>
<text x="232.0" y="372.2" font-size="4.0" text-anchor="start" fill="#1a1a48" font-weight="normal" textLength="27.7" lengthAdjust="spacingAndGlyphs" stroke="#1a1a48" stroke-width="0.12">MAX TORQUE :</text>
<text x="145.0" y="378.8" font-size="4.0" text-anchor="start" fill="#1a1a48" font-weight="normal" textLength="67.0" lengthAdjust="spacingAndGlyphs" stroke="#1a1a48" stroke-width="0.12">MCB1,MCB2,MCB3,MCB4,MCB5,MCB6</text>
<text x="145.0" y="384.6" font-size="4.0" text-anchor="start" fill="#1a1a48" font-weight="normal" textLength="28.5" lengthAdjust="spacingAndGlyphs" stroke="#1a1a48" stroke-width="0.12">RCBO,DC1,DC2</text>
<text x="232.0" y="381.8" font-size="4.0" text-anchor="start" fill="#1a1a48" font-weight="normal" textLength="33.2" lengthAdjust="spacingAndGlyphs" stroke="#1a1a48" stroke-width="0.12">2.8Nm / 25 in-lbs</text>
<line x1="403.0" y1="360.7" x2="480.0" y2="360.7" stroke="#333" stroke-width="0.9"/>
<line x1="494.0" y1="360.7" x2="571.7" y2="360.7" stroke="#333" stroke-width="0.9"/>
<polygon points="403.0,360.7 406.2,359.26 406.2,362.14" fill="#000"/>
<polygon points="571.7,360.7 568.5,359.26 568.5,362.14" fill="#000"/>
<line x1="571.7" y1="357.5" x2="571.7" y2="364.0" stroke="#000" stroke-width="0.9"/>
<text x="481.3" y="363.4" font-size="7.0" text-anchor="start" fill="#1c2458" font-weight="normal" textLength="12.0" lengthAdjust="spacingAndGlyphs" stroke="#1c2458" stroke-width="0.14">800</text>
<rect x="403.4" y="366.4" width="168.3" height="58.0" fill="none" stroke="#000" stroke-width="1.0"/>
<rect x="404.3" y="425.2" width="167.4" height="4.2" fill="none" stroke="#000" stroke-width="1.0"/>
<rect x="412.5" y="429.4" width="6" height="1.6" fill="#333" stroke="#000" stroke-width="0"/>
<rect x="419.4" y="369.3" width="66.20000000000005" height="49.0" rx="7" fill="#fff" stroke="#1a1a1a" stroke-width="2.1"/>
<circle cx="431.5" cy="372.3" r="1.15" fill="#000"/>
<circle cx="431.5" cy="415.3" r="1.15" fill="#000"/>
<circle cx="452.4" cy="372.3" r="1.15" fill="#000"/>
<circle cx="452.4" cy="415.3" r="1.15" fill="#000"/>
<circle cx="473.79999999999995" cy="372.3" r="1.15" fill="#000"/>
<circle cx="473.79999999999995" cy="415.3" r="1.15" fill="#000"/>
<circle cx="422.59999999999997" cy="385.7" r="1.15" fill="#000"/>
<circle cx="482.3" cy="385.7" r="1.15" fill="#000"/>
<circle cx="422.59999999999997" cy="401.3" r="1.15" fill="#000"/>
<circle cx="482.3" cy="401.3" r="1.15" fill="#000"/>
<rect x="490.0" y="369.3" width="66.29999999999995" height="49.0" rx="7" fill="#fff" stroke="#1a1a1a" stroke-width="2.1"/>
<circle cx="502.1" cy="372.3" r="1.15" fill="#000"/>
<circle cx="502.1" cy="415.3" r="1.15" fill="#000"/>
<circle cx="523.0" cy="372.3" r="1.15" fill="#000"/>
<circle cx="523.0" cy="415.3" r="1.15" fill="#000"/>
<circle cx="544.4" cy="372.3" r="1.15" fill="#000"/>
<circle cx="544.4" cy="415.3" r="1.15" fill="#000"/>
<circle cx="493.2" cy="385.7" r="1.15" fill="#000"/>
<circle cx="553.0" cy="385.7" r="1.15" fill="#000"/>
<circle cx="493.2" cy="401.3" r="1.15" fill="#000"/>
<circle cx="553.0" cy="401.3" r="1.15" fill="#000"/>
<circle cx="412.8" cy="375.9" r="2.1" fill="none" stroke="#000" stroke-width="0.9"/>
<circle cx="412.8" cy="415.3" r="2.1" fill="none" stroke="#000" stroke-width="0.9"/>
<circle cx="562.0" cy="375.9" r="2.1" fill="none" stroke="#000" stroke-width="0.9"/>
<circle cx="562.0" cy="415.3" r="2.1" fill="none" stroke="#000" stroke-width="0.9"/>
<circle cx="407.2" cy="421.3" r="2.2" fill="none" stroke="#000" stroke-width="0.9"/>
<circle cx="502.8" cy="380.5" r="2.8" fill="#111"/>
<text x="500.8" y="377.4" font-size="2.3" text-anchor="start" fill="#8a6a70" font-weight="bold" textLength="4.0" lengthAdjust="spacingAndGlyphs">MCB</text>
<text x="502.1" y="384" font-size="2.6" font-weight="bold" fill="#7a6a90" transform="rotate(90 502.1 384)" textLength="15.7" lengthAdjust="spacingAndGlyphs">SPARE GLAND</text>
<circle cx="509.1" cy="380.5" r="2.8" fill="#111"/>
<text x="507.1" y="377.4" font-size="2.3" text-anchor="start" fill="#8a6a70" font-weight="bold" textLength="4.0" lengthAdjust="spacingAndGlyphs">MCB</text>
<text x="508.40000000000003" y="384" font-size="2.6" font-weight="bold" fill="#7a6a90" transform="rotate(90 508.40000000000003 384)" textLength="15.7" lengthAdjust="spacingAndGlyphs">SPARE GLAND</text>
<circle cx="515.3" cy="380.5" r="2.8" fill="#111"/>
<text x="513.3" y="377.4" font-size="2.3" text-anchor="start" fill="#8a6a70" font-weight="bold" textLength="4.0" lengthAdjust="spacingAndGlyphs">MCB</text>
<text x="514.5999999999999" y="384" font-size="2.6" font-weight="bold" fill="#7a6a90" transform="rotate(90 514.5999999999999 384)" textLength="15.7" lengthAdjust="spacingAndGlyphs">SPARE GLAND</text>
<circle cx="521.5" cy="380.5" r="2.8" fill="#111"/>
<text x="519.5" y="377.4" font-size="2.3" text-anchor="start" fill="#8a6a70" font-weight="bold" textLength="4.0" lengthAdjust="spacingAndGlyphs">MCB</text>
<text x="520.8" y="384" font-size="2.6" font-weight="bold" fill="#7a6a90" transform="rotate(90 520.8 384)" textLength="15.7" lengthAdjust="spacingAndGlyphs">SPARE GLAND</text>
<circle cx="527.8" cy="380.5" r="2.8" fill="#111"/>
<text x="525.8" y="377.4" font-size="2.3" text-anchor="start" fill="#8a6a70" font-weight="bold" textLength="4.0" lengthAdjust="spacingAndGlyphs">MCB</text>
<text x="527.0999999999999" y="384" font-size="2.6" font-weight="bold" fill="#7a6a90" transform="rotate(90 527.0999999999999 384)" textLength="15.7" lengthAdjust="spacingAndGlyphs">SPARE GLAND</text>
<circle cx="534.4" cy="380.5" r="2.8" fill="#111"/>
<text x="532.4" y="377.4" font-size="2.3" text-anchor="start" fill="#8a6a70" font-weight="bold" textLength="4.0" lengthAdjust="spacingAndGlyphs">MCB</text>
<text x="533.6999999999999" y="384" font-size="2.6" font-weight="bold" fill="#7a6a90" transform="rotate(90 533.6999999999999 384)" textLength="15.7" lengthAdjust="spacingAndGlyphs">SPARE GLAND</text>
<line x1="572.4" y1="366.1" x2="582.2" y2="366.1" stroke="#000" stroke-width="0.9"/>
<line x1="572.4" y1="429.5" x2="582.2" y2="429.5" stroke="#000" stroke-width="0.9"/>
<line x1="579.5" y1="366.1" x2="579.5" y2="390.5" stroke="#000" stroke-width="0.9"/>
<line x1="579.5" y1="405.0" x2="579.5" y2="429.5" stroke="#000" stroke-width="0.9"/>
<polygon points="579.5,366.3 578.06,369.5 580.94,369.5" fill="#000"/>
<polygon points="579.5,429.3 578.06,426.1 580.94,426.1" fill="#000"/>
<text x="582.0" y="397.8" font-size="7.0" text-anchor="middle" fill="#1c2458" font-weight="normal" textLength="12.5" lengthAdjust="spacingAndGlyphs" transform="rotate(-90 582.0 397.8)" stroke="#1c2458" stroke-width="0.14">300</text>
</svg></body></html>
